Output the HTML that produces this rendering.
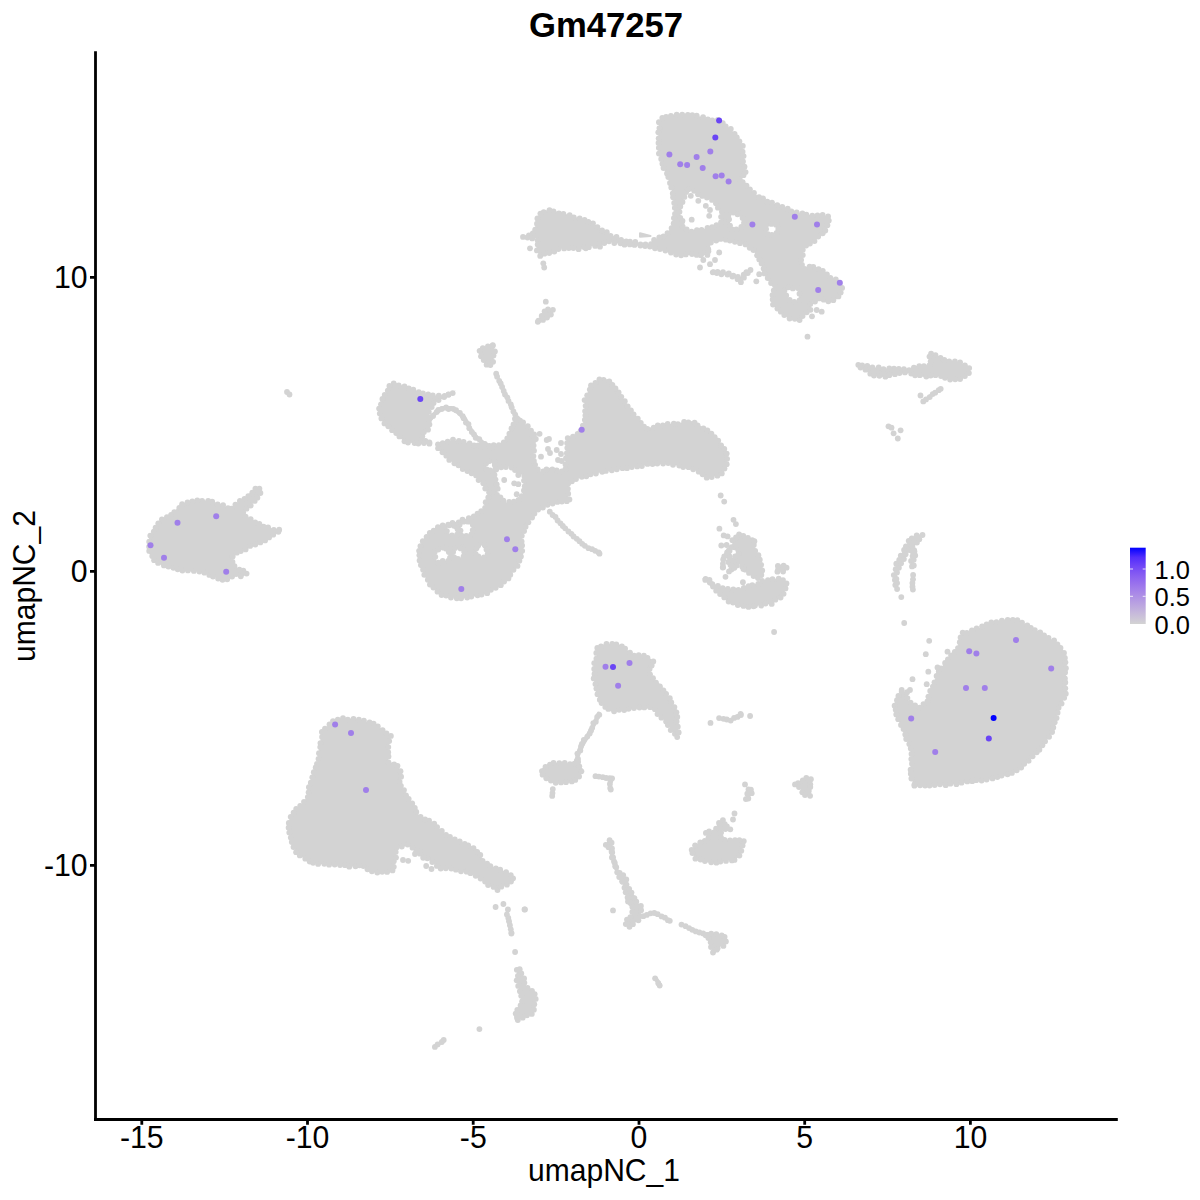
<!DOCTYPE html>
<html><head><meta charset="utf-8"><style>
html,body{margin:0;padding:0;background:#fff;width:1200px;height:1200px;overflow:hidden}
svg{position:absolute;left:0;top:0}
text{font-family:"Liberation Sans",sans-serif;fill:#000}
</style></head><body>
<svg width="1200" height="1200" viewBox="0 0 1200 1200">
<defs><linearGradient id="lg" x1="0" y1="1" x2="0" y2="0">
<stop offset="0" stop-color="#d3d3d3"/><stop offset="0.125" stop-color="#c8bcda"/><stop offset="0.25" stop-color="#bba5e0"/><stop offset="0.375" stop-color="#ad8ee6"/><stop offset="0.5" stop-color="#9d77ec"/><stop offset="0.625" stop-color="#8a60f1"/><stop offset="0.75" stop-color="#7248f6"/><stop offset="0.875" stop-color="#522dfb"/><stop offset="1" stop-color="#0000ff"/></linearGradient></defs>
<g fill="#d3d3d3" stroke="#d3d3d3" stroke-width="2" stroke-linejoin="round" stroke-linecap="round">
<path fill-rule="evenodd" stroke="none" d="M914.4 786.7 L946.5 785.1 L973.1 781.7 L996.3 778.4 L1015.9 771.9 L1028.9 760.5 L1042.1 747.3 L1051.9 732.6 L1056.8 716.2 L1056.8 716.2 L1060.1 706.2 L1060.2 706.0 L1066.7 693.0 L1065.9 676.7 L1065.9 676.6 L1066.7 663.5 L1063.5 650.7 L1057.3 642.9 L1044.2 634.7 L1032.5 628.1 L1021.0 621.5 L1010.0 618.3 L990.5 623.2 L980.6 627.3 L980.5 627.3 L968.9 631.5 L968.6 631.6 L961.4 633.0 L959.9 641.9 L959.9 642.1 L959.8 642.2 L959.8 642.3 L959.7 642.5 L953.1 654.1 L953.0 654.2 L952.9 654.4 L952.8 654.5 L944.6 662.7 L938.1 672.4 L931.5 687.2 L926.5 702.2 L926.5 702.3 L926.4 702.5 L926.3 702.6 L926.2 702.7 L926.1 702.8 L926.0 702.9 L925.9 703.0 L925.7 703.1 L919.0 706.4 L918.9 706.5 L918.7 706.5 L918.6 706.6 L918.4 706.6 L918.3 706.6 L918.1 706.6 L918.0 706.6 L917.8 706.5 L917.7 706.4 L917.5 706.4 L909.2 701.4 L909.1 701.3 L908.9 701.2 L908.8 701.1 L908.7 701.0 L908.6 700.9 L908.6 700.7 L908.5 700.6 L908.5 700.4 L908.4 700.3 L908.4 700.1 L907.7 692.3 L902.3 691.7 L898.0 695.9 L893.4 705.2 L894.9 711.2 L898.1 719.4 L904.8 734.4 L904.8 734.5 L911.5 752.8 L911.6 752.9 L911.6 753.1 L911.6 753.3 L911.6 753.5 L910.0 774.8ZM905.6 372.3 L905.8 372.2 L905.9 372.2 L906.1 372.2 L906.3 372.3 L906.4 372.3 L906.6 372.3 L915.7 375.8 L924.6 376.9 L933.6 374.6 L933.8 374.6 L933.9 374.6 L934.1 374.6 L934.3 374.6 L934.4 374.6 L934.6 374.7 L943.8 378.1 L952.7 380.4 L963.5 378.2 L969.7 372.0 L969.7 366.7 L959.2 362.5 L943.0 359.1 L942.9 359.0 L942.7 359.0 L942.6 358.9 L942.5 358.9 L933.4 353.2 L929.0 352.5 L930.9 363.0 L930.9 363.2 L930.9 363.4 L930.9 363.5 L930.9 363.7 L930.9 363.8 L930.8 364.0 L930.7 364.1 L930.6 364.2 L930.6 364.4 L930.4 364.5 L930.3 364.6 L930.2 364.7 L930.1 364.8 L929.9 364.8 L929.8 364.9 L929.6 364.9 L929.5 364.9 L915.8 366.1 L909.0 369.4 L908.9 369.5 L908.8 369.5 L908.6 369.6 L908.5 369.6 L908.3 369.6 L908.2 369.6 L908.0 369.6 L896.6 367.3 L887.5 368.4 L887.4 368.4 L887.2 368.4 L873.2 367.3 L873.1 367.2 L872.9 367.2 L863.6 364.9 L856.9 363.5 L857.2 364.7 L862.6 369.0 L871.6 374.7 L882.7 376.9 L896.3 374.6ZM914.2 549.8 L914.1 549.8 L914.0 549.8 L913.8 549.7 L913.7 549.7 L913.5 549.7 L913.4 549.6 L913.2 549.5 L913.1 549.4 L913.0 549.3 L912.9 549.2 L912.8 549.1 L912.7 549.0 L912.7 548.8 L912.6 548.7 L912.6 548.5 L912.5 548.4 L912.5 548.2 L912.5 548.1 L912.5 547.9 L912.6 547.8 L912.6 547.6 L912.7 547.5 L912.8 547.3 L912.9 547.2 L913.0 547.1 L913.1 547.0 L914.6 545.6 L920.4 538.5 L923.0 535.0 L921.9 533.5 L911.0 538.0 L905.4 545.8 L901.4 553.7 L895.5 566.5 L893.6 576.9 L896.5 588.2 L897.8 589.6 L898.3 588.1 L896.7 578.6 L896.7 578.4 L896.7 578.3 L896.7 578.1 L896.7 578.0 L898.4 569.7 L898.5 569.5 L898.5 569.4 L898.6 569.2 L898.7 569.1 L905.2 559.3 L906.7 552.9 L906.8 552.8 L906.9 552.6 L906.9 552.5 L907.0 552.3 L907.1 552.2 L907.2 552.1 L909.2 550.4 L909.4 550.3 L909.5 550.2 L909.6 550.1 L909.8 550.0 L909.9 550.0 L910.1 550.0 L910.2 550.0 L910.4 550.0 L910.6 550.0 L910.7 550.0 L910.9 550.1 L911.0 550.1 L911.1 550.2 L911.3 550.3 L911.4 550.4 L911.5 550.5 L911.6 550.6 L911.7 550.8 L911.8 550.9 L911.8 551.1 L911.8 551.2 L911.9 551.4 L912.6 557.8 L912.6 558.0 L912.6 558.2 L912.6 558.3 L912.5 558.5 L912.5 558.6 L909.8 564.7 L912.5 568.1 L915.1 567.0 L913.4 560.4 L913.4 560.2 L913.4 560.1 L913.4 559.9 L913.4 559.8 L913.4 559.7 L913.5 559.5 L913.5 559.4 L916.2 553.1ZM549.5 253.5 L559.3 248.6 L559.4 248.5 L559.6 248.5 L559.7 248.4 L559.9 248.4 L560.1 248.4 L579.8 249.2 L586.3 247.6 L586.4 247.6 L599.6 245.1 L609.5 241.8 L609.7 241.8 L609.8 241.7 L610.0 241.7 L610.1 241.7 L610.3 241.8 L618.6 243.4 L630.2 245.1 L648.5 246.7 L648.6 246.8 L648.8 246.8 L657.1 249.3 L667.1 251.8 L667.2 251.8 L676.9 255.1 L708.4 255.1 L708.4 244.4 L708.4 244.2 L708.4 244.1 L708.5 243.9 L708.5 243.7 L708.6 243.6 L708.7 243.5 L708.8 243.3 L708.9 243.2 L709.0 243.1 L709.1 243.0 L709.3 242.9 L709.4 242.9 L721.1 238.5 L721.2 238.5 L721.4 238.4 L721.5 238.4 L721.7 238.4 L721.8 238.4 L722.0 238.4 L722.1 238.5 L722.3 238.5 L730.4 241.8 L743.5 243.4 L743.7 243.4 L743.8 243.5 L744.0 243.5 L744.1 243.6 L744.2 243.7 L744.4 243.8 L754.4 252.1 L754.5 252.2 L754.6 252.4 L754.7 252.5 L759.7 260.8 L759.8 261.0 L759.8 261.1 L764.8 274.4 L767.9 280.6 L774.3 285.4 L774.4 285.5 L774.5 285.6 L774.6 285.7 L774.7 285.9 L774.8 286.0 L774.8 286.1 L774.9 286.3 L774.9 286.5 L774.9 286.6 L774.9 286.8 L774.9 286.9 L774.9 287.1 L774.8 287.2 L774.8 287.4 L771.6 293.7 L772.4 304.3 L779.4 312.1 L788.9 318.5 L800.8 320.7 L803.6 315.9 L803.7 315.8 L803.8 315.6 L803.9 315.5 L810.2 309.2 L811.8 302.9 L811.8 302.8 L811.9 302.7 L812.0 302.5 L812.0 302.4 L812.1 302.3 L812.2 302.2 L812.3 302.1 L812.5 302.0 L812.6 301.9 L812.7 301.8 L821.1 298.5 L821.2 298.5 L821.4 298.4 L821.5 298.4 L821.7 298.4 L821.8 298.4 L822.0 298.4 L822.1 298.5 L822.2 298.5 L822.4 298.6 L828.6 301.7 L835.8 300.2 L840.2 294.3 L842.4 285.4 L839.0 281.3 L829.3 276.4 L829.1 276.3 L829.0 276.2 L828.9 276.1 L822.4 269.7 L813.2 265.8 L803.7 268.2 L803.6 268.3 L803.4 268.3 L803.2 268.3 L803.1 268.2 L802.9 268.2 L802.8 268.2 L802.6 268.1 L802.5 268.0 L802.3 267.9 L802.2 267.8 L802.1 267.7 L802.0 267.6 L801.9 267.4 L801.9 267.3 L801.8 267.1 L801.8 267.0 L801.7 266.8 L801.7 266.7 L801.7 258.3 L801.7 258.2 L801.8 258.0 L803.4 249.7 L803.5 249.5 L803.5 249.4 L803.6 249.2 L803.7 249.1 L803.8 249.0 L803.9 248.9 L804.0 248.8 L812.3 242.1 L812.4 242.1 L812.7 241.8 L812.8 241.7 L813.0 241.6 L813.1 241.6 L813.3 241.5 L813.4 241.5 L813.6 241.5 L813.7 241.5 L813.9 241.5 L814.0 241.5 L814.4 241.6 L816.5 239.0 L816.7 238.8 L816.8 238.7 L825.3 232.4 L827.1 224.9 L827.2 224.8 L827.2 224.6 L827.3 224.4 L828.5 222.7 L829.8 216.3 L819.9 214.9 L806.7 214.9 L806.5 214.9 L806.4 214.9 L806.2 214.9 L794.6 211.5 L794.4 211.5 L781.1 206.5 L781.0 206.5 L766.0 199.8 L766.0 199.8 L756.0 194.8 L755.8 194.7 L755.7 194.6 L755.5 194.5 L740.5 179.5 L740.4 179.3 L740.3 179.2 L740.3 179.1 L740.2 178.9 L740.1 178.8 L740.1 178.6 L740.1 178.5 L740.1 178.3 L740.1 178.2 L740.1 178.0 L740.1 177.8 L740.2 177.7 L740.3 177.6 L740.4 177.4 L740.5 177.3 L740.6 177.2 L740.7 177.1 L740.8 177.0 L741.0 176.9 L746.5 174.1 L745.1 167.0 L743.4 158.6 L743.4 158.4 L742.6 145.5 L735.4 134.3 L727.3 126.2 L719.4 120.7 L706.4 118.2 L706.2 118.2 L693.1 114.6 L680.1 113.6 L662.6 116.5 L659.1 122.2 L658.3 136.7 L658.3 151.5 L661.5 164.4 L668.1 177.6 L668.2 177.8 L668.2 177.9 L671.5 189.6 L671.6 189.7 L674.1 203.0 L674.1 203.2 L674.1 203.3 L674.1 215.0 L674.1 215.1 L674.1 215.3 L672.3 224.8 L672.2 225.0 L671.5 227.2 L671.5 227.3 L671.4 227.5 L671.3 227.6 L667.6 232.5 L667.5 232.6 L667.4 232.7 L665.0 234.8 L664.9 234.9 L664.7 235.0 L664.5 235.1 L664.4 235.2 L662.1 235.8 L662.1 235.9 L662.0 236.1 L662.0 236.2 L661.9 236.3 L661.8 236.4 L661.6 236.5 L661.5 236.6 L661.4 236.7 L661.3 236.8 L654.2 239.7 L649.4 244.2 L649.3 244.3 L649.2 244.4 L649.1 244.4 L648.9 244.5 L648.8 244.5 L648.6 244.6 L648.5 244.6 L648.3 244.6 L648.2 244.6 L648.0 244.6 L636.4 242.4 L626.4 240.7 L626.3 240.7 L626.1 240.7 L612.8 235.7 L612.6 235.6 L602.6 230.6 L602.5 230.5 L602.4 230.4 L592.6 223.1 L582.8 219.9 L582.8 219.8 L569.5 214.9 L556.4 211.6 L546.8 210.3 L540.4 212.1 L536.5 222.2 L533.2 233.0 L533.1 233.1 L533.1 233.3 L533.0 233.4 L532.9 233.5 L532.8 233.6 L532.7 233.7 L532.6 233.8 L532.4 233.9 L532.3 234.0 L532.2 234.0 L532.0 234.1 L522.6 236.1 L524.2 238.4 L535.0 238.4 L535.2 238.4 L535.3 238.4 L535.5 238.5 L535.6 238.5 L535.8 238.6 L535.9 238.7 L536.0 238.8 L536.1 238.9 L536.2 239.0 L536.3 239.1 L536.4 239.2 L536.5 239.4 L536.5 239.5 L536.6 239.7 L536.6 239.8 L536.6 240.0 L536.6 249.7 L539.3 255.7ZM801.5 297.7 L801.5 297.9 L801.6 298.0 L801.6 298.2 L801.6 298.3 L801.6 298.5 L801.6 298.6 L801.5 298.8 L801.5 298.9 L801.4 299.1 L801.3 299.2 L801.3 299.3 L801.1 299.4 L801.0 299.6 L800.9 299.6 L800.8 299.7 L800.6 299.8 L800.5 299.9 L795.5 301.5 L795.4 301.6 L795.2 301.6 L795.0 301.6 L794.9 301.6 L794.7 301.6 L794.6 301.5 L794.4 301.5 L794.3 301.4 L787.6 298.1 L787.5 298.0 L787.4 297.9 L787.2 297.8 L787.1 297.7 L787.0 297.6 L787.0 297.5 L786.9 297.3 L786.8 297.2 L786.8 297.1 L785.1 290.4 L785.1 290.2 L785.1 290.1 L785.1 289.9 L785.1 289.7 L785.1 289.6 L785.2 289.4 L785.2 289.3 L785.3 289.1 L785.4 289.0 L785.5 288.9 L785.6 288.8 L785.8 288.7 L785.9 288.6 L786.0 288.5 L786.2 288.5 L786.3 288.4 L786.5 288.4 L786.7 288.4 L796.7 288.4 L796.8 288.4 L797.0 288.4 L797.1 288.5 L797.3 288.5 L797.4 288.6 L797.6 288.7 L797.7 288.8 L797.8 288.9 L797.9 289.0 L798.0 289.1 L798.1 289.3 L798.2 289.4ZM776.2 224.4 L776.4 224.4 L776.5 224.5 L776.7 224.5 L776.8 224.6 L776.9 224.7 L777.1 224.8 L777.2 224.9 L777.3 225.0 L777.4 225.2 L777.4 225.3 L777.5 225.4 L777.5 225.6 L777.6 225.8 L777.6 225.9 L777.6 226.1 L777.6 226.2 L776.6 233.2 L776.6 233.4 L776.5 233.5 L776.5 233.7 L776.4 233.8 L776.3 233.9 L776.2 234.0 L776.1 234.2 L776.0 234.3 L775.9 234.3 L775.7 234.4 L775.6 234.5 L775.5 234.5 L775.3 234.6 L775.2 234.6 L775.0 234.6 L769.0 234.6 L768.8 234.6 L768.7 234.6 L768.5 234.5 L768.4 234.5 L768.3 234.4 L768.1 234.3 L768.0 234.2 L767.9 234.1 L767.8 234.0 L767.7 233.9 L767.6 233.8 L767.5 233.6 L767.5 233.5 L767.4 233.4 L767.4 233.2 L766.4 225.2 L766.4 225.0 L766.4 224.9 L766.4 224.7 L766.5 224.6 L766.5 224.4 L766.6 224.3 L766.6 224.2 L766.7 224.0 L766.8 223.9 L766.9 223.8 L767.0 223.7 L767.2 223.6 L767.3 223.6 L767.4 223.5 L767.6 223.5 L767.7 223.4 L767.9 223.4 L768.0 223.4 L768.2 223.4ZM740.2 214.4 L740.3 214.4 L740.5 214.5 L740.6 214.5 L740.7 214.6 L740.9 214.7 L741.0 214.8 L741.1 214.9 L741.2 215.0 L741.3 215.1 L741.4 215.2 L741.5 215.4 L741.5 215.5 L741.6 215.7 L743.6 224.7 L743.6 224.8 L743.6 225.0 L743.6 225.1 L743.6 225.3 L743.5 225.4 L743.5 225.6 L743.4 225.7 L743.4 225.9 L743.3 226.0 L743.2 226.1 L743.0 226.2 L742.9 226.3 L742.8 226.4 L742.7 226.5 L742.5 226.5 L733.5 229.5 L733.4 229.6 L733.2 229.6 L733.0 229.6 L732.9 229.6 L732.7 229.6 L732.6 229.5 L732.4 229.5 L732.3 229.4 L732.1 229.4 L732.0 229.3 L731.9 229.2 L731.8 229.1 L731.7 228.9 L731.6 228.8 L731.5 228.7 L731.5 228.5 L731.4 228.4 L728.4 215.4 L728.4 215.2 L728.4 215.0 L728.4 214.9 L728.4 214.7 L728.5 214.6 L728.5 214.4 L728.6 214.3 L728.7 214.1 L728.7 214.0 L728.9 213.9 L729.0 213.8 L729.1 213.7 L729.2 213.6 L729.4 213.5 L729.5 213.5 L729.7 213.4 L729.8 213.4 L730.0 213.4 L730.2 213.4ZM680.1 217.2 L680.1 217.0 L680.1 216.9 L680.1 216.8 L680.1 216.6 L680.1 216.5 L681.7 203.1 L681.8 203.0 L681.8 202.9 L681.8 202.7 L686.8 190.2 L686.9 190.1 L687.0 190.0 L687.1 189.8 L687.2 189.7 L687.3 189.6 L687.4 189.5 L687.5 189.4 L687.7 189.4 L687.8 189.3 L688.0 189.3 L688.1 189.2 L688.3 189.2 L688.4 189.2 L688.6 189.3 L688.7 189.3 L688.9 189.3 L689.0 189.4 L689.1 189.5 L699.0 195.2 L712.2 200.2 L712.4 200.2 L712.5 200.3 L712.6 200.4 L712.8 200.5 L712.9 200.6 L713.0 200.7 L721.3 212.4 L721.4 212.5 L721.5 212.7 L721.5 212.8 L721.6 213.0 L721.6 213.1 L721.6 213.3 L721.6 213.4 L721.6 213.6 L719.9 223.6 L719.9 223.8 L719.8 223.9 L719.8 224.1 L719.7 224.2 L719.6 224.3 L719.5 224.5 L719.3 224.6 L719.2 224.7 L719.1 224.8 L718.9 224.8 L718.8 224.9 L707.1 228.2 L707.0 228.2 L693.6 230.7 L693.5 230.8 L693.3 230.8 L693.2 230.8 L693.0 230.7 L692.9 230.7 L684.5 228.2 L684.4 228.1 L684.3 228.1 L684.1 228.0 L684.0 227.9 L683.9 227.8 L683.8 227.7 L683.7 227.6 L683.6 227.5 L683.5 227.3 L683.5 227.2ZM810.9 784.9 L810.9 777.6 L806.6 776.7 L802.2 780.0 L802.1 780.1 L802.0 780.2 L797.0 782.7 L793.5 784.8 L799.4 787.3 L799.5 787.3 L799.7 787.4 L799.8 787.5 L799.9 787.6 L800.0 787.8 L800.1 787.9 L800.2 788.0 L800.2 788.2 L802.5 793.8 L808.8 797.0 L811.4 795.6 L809.9 793.4 L809.8 793.3 L809.8 793.1 L809.7 793.0 L809.7 792.8 L809.7 792.7 L809.7 792.5 L809.7 792.4 L809.7 792.2ZM755.7 606.0 L770.5 603.9 L780.7 597.7 L784.7 591.8 L786.7 584.0 L783.2 578.8 L773.4 578.8 L762.8 581.0 L754.3 584.2 L745.6 587.4 L745.4 587.5 L736.7 589.6 L736.6 589.7 L736.4 589.7 L736.3 589.7 L736.1 589.7 L723.1 587.5 L722.9 587.5 L722.8 587.4 L714.1 584.2 L714.0 584.1 L713.8 584.0 L713.7 583.9 L713.5 583.8 L707.6 577.8 L702.3 578.5 L702.8 579.3 L711.2 584.6 L711.3 584.7 L711.5 584.8 L711.6 584.9 L720.1 595.6 L728.5 601.9 L741.0 607.0ZM777.6 571.3 L785.9 571.3 L786.6 566.2 L781.9 563.9 L776.2 567.1ZM729.6 550.2 L728.5 550.9 L727.7 561.3 L730.1 563.4 L730.2 563.5 L730.3 563.6 L730.4 563.8 L730.5 563.9 L730.6 564.0 L730.6 564.2 L730.6 564.3 L730.7 564.5 L730.7 564.7 L730.7 564.8 L730.6 565.0 L730.6 565.1 L730.5 565.3 L730.5 565.4 L730.4 565.5 L730.3 565.7 L730.2 565.8 L730.1 565.9 L730.0 566.0 L729.8 566.0 L729.7 566.1 L730.7 570.2 L735.5 570.2 L735.5 567.8 L735.5 567.8 L735.4 567.7 L735.3 567.5 L735.3 567.4 L735.2 567.2 L735.2 567.1 L735.2 566.9 L735.2 566.7 L735.2 566.6 L735.3 566.4 L735.3 566.3 L735.4 566.1 L735.5 566.0 L735.6 565.9 L735.7 565.8 L735.8 565.7 L735.9 565.6 L736.1 565.5 L736.2 565.4 L736.4 565.4 L738.9 564.7 L739.0 564.6 L739.2 564.6 L739.3 564.6 L739.5 564.6 L739.6 564.6 L739.8 564.7 L739.9 564.7 L740.1 564.8 L740.2 564.9 L740.3 564.9 L740.4 565.1 L740.5 565.2 L741.1 565.9 L745.8 569.7 L745.9 569.8 L751.7 575.4 L756.3 579.3 L759.0 577.3 L762.5 573.9 L763.3 569.2 L760.5 563.0 L760.5 562.7 L758.6 556.2 L755.9 550.5 L755.8 550.4 L755.8 550.3 L753.0 541.2 L745.9 536.8 L745.8 536.7 L740.1 532.6 L736.6 535.4 L735.0 542.0 L735.9 544.4 L736.0 544.6 L736.0 544.7 L736.1 544.9 L736.1 545.0 L736.0 545.2 L736.0 545.4 L736.0 545.5 L735.9 545.7 L735.9 545.8 L735.8 545.9 L735.7 546.0 L735.6 546.2 L735.5 546.3 L735.3 546.4 L730.9 549.3 L735.4 547.5 L735.6 547.5 L735.7 547.4 L735.9 547.4 L736.0 547.4 L736.2 547.4 L736.3 547.4 L736.5 547.5 L736.6 547.5 L736.8 547.6 L736.9 547.7 L737.0 547.8 L737.1 547.9 L737.2 548.0 L737.3 548.1 L737.4 548.2 L737.5 548.4 L737.5 548.5 L737.6 548.7 L738.6 553.7 L738.6 553.8 L738.6 554.0 L738.6 554.2 L738.6 554.3 L738.5 554.5 L738.5 554.6 L738.4 554.8 L738.3 554.9 L738.2 555.0 L738.1 555.1 L738.0 555.2 L737.9 555.3 L737.7 555.4 L737.6 555.5 L732.6 557.5 L732.4 557.5 L732.3 557.6 L732.1 557.6 L732.0 557.6 L731.8 557.6 L731.7 557.6 L731.5 557.5 L731.4 557.5 L731.2 557.4 L731.1 557.3 L731.0 557.2 L730.9 557.1 L730.8 557.0 L730.7 556.9 L730.6 556.8 L730.5 556.6 L730.5 556.5 L730.4 556.3 L729.4 551.3 L729.4 551.2 L729.4 551.0 L729.4 550.8 L729.4 550.7 L729.5 550.5 L729.5 550.4 L729.6 550.2ZM748.7 789.0 L745.4 797.8 L745.4 800.0 L747.9 800.6 L749.8 796.8 L749.9 796.6 L750.0 796.5 L750.1 796.4 L753.7 792.8 L751.6 788.6ZM711.0 271.5 L713.9 273.5 L726.9 275.1 L727.0 275.1 L727.1 275.1 L727.3 275.2 L735.6 278.5 L735.7 278.6 L735.8 278.6 L741.3 282.1 L745.4 277.3 L751.6 269.6 L751.4 268.6 L747.6 271.3 L741.0 276.3 L740.8 276.4 L740.7 276.4 L740.5 276.5 L740.4 276.6 L740.2 276.6 L740.1 276.6 L739.9 276.6 L739.8 276.6 L739.6 276.6 L729.6 274.1 L729.5 274.0 L719.8 270.8ZM735.5 859.7 L739.9 855.4 L742.2 848.2 L742.3 848.1 L742.3 848.0 L742.4 847.9 L745.6 843.1 L744.0 840.7 L737.4 838.5 L730.4 840.3 L730.2 840.3 L730.1 840.3 L729.9 840.3 L729.7 840.3 L722.2 839.1 L722.1 839.0 L721.9 839.0 L721.8 838.9 L721.6 838.9 L721.5 838.8 L721.4 838.7 L721.3 838.5 L721.2 838.4 L721.1 838.3 L721.0 838.1 L721.0 838.0 L720.9 837.8 L720.9 837.7 L720.9 837.5 L720.9 837.3 L720.9 837.2 L722.2 830.9 L722.2 830.8 L722.3 830.6 L722.3 830.5 L722.4 830.3 L722.5 830.2 L722.6 830.1 L722.8 830.0 L722.9 829.9 L723.0 829.8 L723.2 829.8 L723.3 829.7 L723.5 829.7 L723.7 829.7 L723.8 829.7 L724.0 829.7 L724.1 829.7 L728.7 830.8 L730.6 830.2 L729.9 827.5 L725.7 825.9 L725.5 825.8 L725.4 825.7 L725.3 825.6 L725.2 825.5 L725.1 825.4 L725.0 825.3 L724.9 825.2 L724.8 825.0 L724.7 824.9 L724.7 824.8 L724.7 824.6 L724.7 824.4 L724.7 824.3 L724.7 824.1 L724.7 824.0 L725.5 820.6 L721.7 819.8 L717.6 823.4 L715.3 830.5 L715.2 830.6 L715.1 830.8 L715.1 830.9 L715.0 831.0 L714.9 831.2 L714.7 831.3 L714.6 831.3 L714.5 831.4 L714.3 831.5 L714.2 831.5 L714.1 831.6 L713.9 831.6 L713.7 831.6 L713.6 831.6 L713.4 831.6 L713.3 831.5 L707.6 829.8 L704.7 830.9 L707.7 836.8 L707.7 836.9 L707.8 837.1 L707.8 837.2 L707.8 837.4 L707.8 837.5 L707.8 837.7 L707.8 837.9 L707.8 838.0 L707.7 838.2 L707.6 838.3 L707.6 838.4 L707.5 838.5 L707.4 838.7 L707.2 838.8 L707.1 838.9 L707.0 838.9 L694.8 845.0 L691.2 850.2 L692.7 854.2 L696.0 858.7 L705.3 862.2 L717.3 862.8 L724.6 860.9 L724.8 860.9ZM718.6 947.9 L718.7 947.8 L718.8 947.7 L718.9 947.6 L719.0 947.5 L719.2 947.4 L719.3 947.3 L726.2 943.8 L727.6 940.2 L724.0 935.2 L714.9 932.9 L708.2 934.0 L704.2 937.2 L709.5 939.8 L709.6 939.9 L709.7 940.0 L709.8 940.1 L709.9 940.2 L710.0 940.3 L710.1 940.4 L710.2 940.6 L710.3 940.7 L710.3 940.8 L710.3 941.0 L711.6 948.4 L712.6 952.4 L715.5 953.2ZM488.0 492.4 L488.1 492.6 L488.2 492.7 L488.2 492.9 L488.2 493.1 L488.3 493.2 L488.3 493.4 L488.3 493.6 L488.2 493.7 L484.9 507.1 L484.8 507.2 L484.8 507.4 L484.7 507.5 L484.6 507.7 L484.5 507.8 L484.4 507.9 L474.4 516.2 L474.2 516.3 L474.1 516.4 L473.9 516.5 L473.8 516.5 L457.1 521.5 L457.1 521.6 L437.4 526.5 L424.6 537.7 L418.3 550.3 L419.9 566.2 L428.0 582.4 L440.8 595.2 L460.0 599.0 L482.8 595.1 L502.3 585.4 L515.3 569.1 L523.4 553.0 L521.7 536.8 L521.7 536.7 L521.7 536.5 L521.8 536.4 L521.8 536.2 L521.8 536.1 L521.9 536.0 L528.6 522.6 L528.7 522.4 L535.3 512.4 L535.4 512.3 L535.5 512.2 L535.7 512.1 L535.8 512.0 L545.8 505.3 L545.9 505.2 L546.1 505.2 L546.3 505.1 L559.6 501.8 L559.8 501.7 L560.0 501.7 L570.7 501.7 L568.6 497.4 L568.5 497.2 L568.5 497.1 L568.4 497.0 L568.4 496.8 L568.4 496.7 L568.4 483.3 L568.4 483.2 L568.4 483.0 L568.5 482.9 L568.5 482.7 L568.6 482.6 L568.7 482.4 L568.8 482.3 L568.9 482.2 L569.0 482.1 L569.1 482.0 L569.3 481.9 L569.4 481.8 L582.8 476.8 L582.9 476.8 L602.9 471.8 L603.1 471.8 L623.1 468.4 L623.1 468.4 L646.4 465.1 L646.5 465.1 L666.5 463.4 L666.7 463.4 L666.8 463.4 L667.0 463.4 L693.3 469.1 L693.5 469.1 L693.7 469.2 L693.8 469.3 L708.5 478.3 L722.2 474.0 L726.4 466.2 L727.4 454.0 L722.0 444.3 L711.3 432.6 L692.7 421.0 L676.9 423.3 L676.8 423.3 L660.3 424.9 L647.1 428.2 L646.9 428.2 L646.8 428.3 L646.6 428.3 L646.5 428.3 L646.3 428.2 L646.2 428.2 L646.0 428.1 L645.9 428.1 L645.7 428.0 L645.6 427.9 L645.5 427.8 L645.4 427.7 L632.1 411.0 L632.0 410.9 L618.7 392.6 L609.1 379.8 L600.4 378.3 L591.3 384.4 L584.9 398.7 L584.9 416.7 L584.9 416.8 L584.9 417.0 L584.9 417.2 L579.9 432.2 L579.8 432.3 L579.7 432.4 L579.7 432.6 L579.6 432.7 L579.5 432.8 L579.3 432.9 L579.2 433.0 L579.1 433.1 L579.0 433.1 L567.3 438.1 L567.3 438.2 L564.6 470.1 L564.6 470.3 L564.5 470.4 L564.5 470.6 L564.4 470.7 L564.3 470.9 L564.3 471.0 L564.1 471.1 L564.0 471.2 L563.9 471.3 L563.8 471.4 L563.6 471.5 L563.5 471.5 L563.3 471.6 L563.2 471.6 L563.0 471.6 L562.9 471.6 L562.7 471.6 L562.6 471.5 L549.2 467.7 L541.7 471.4 L541.6 471.5 L541.4 471.5 L541.3 471.6 L541.1 471.6 L540.9 471.6 L540.8 471.6 L540.6 471.6 L540.5 471.5 L540.3 471.5 L540.2 471.4 L540.1 471.3 L539.9 471.2 L539.8 471.1 L539.7 471.0 L539.6 470.8 L533.6 460.8 L533.6 460.7 L533.5 460.5 L533.5 460.4 L533.4 460.3 L533.4 460.1 L533.4 460.0 L534.2 434.5 L528.8 427.7 L520.9 419.8 L514.4 418.5 L508.2 437.2 L508.1 437.3 L508.1 437.5 L508.0 437.6 L507.9 437.7 L507.8 437.8 L507.7 437.9 L499.3 444.6 L499.2 444.7 L499.1 444.7 L499.0 444.8 L498.8 444.9 L498.7 444.9 L498.5 444.9 L485.2 446.6 L485.0 446.6 L484.8 446.6 L484.7 446.6 L469.7 443.2 L453.3 440.0 L438.3 443.0 L438.3 449.3 L444.4 455.5 L460.8 468.6 L470.5 471.8 L470.6 471.9 L470.8 471.9 L470.9 472.0 L471.0 472.1 L471.1 472.2 L481.1 482.2 L481.2 482.3 L481.3 482.4ZM497.9 494.1 L497.8 494.0 L497.7 493.9 L497.6 493.7 L497.5 493.6 L497.5 493.5 L497.4 493.3 L497.4 493.2 L497.4 493.0 L497.4 492.8 L497.4 492.7 L498.4 488.1 L495.2 476.2 L495.1 476.1 L495.1 475.9 L495.1 475.7 L495.1 475.5 L495.2 475.4 L496.8 469.6 L496.8 469.4 L496.9 469.3 L497.0 469.1 L497.1 469.0 L497.2 468.9 L497.3 468.8 L497.4 468.7 L497.5 468.6 L497.7 468.5 L497.8 468.5 L498.0 468.4 L508.7 466.4 L508.9 466.4 L509.0 466.4 L509.2 466.4 L509.4 466.4 L509.5 466.5 L509.7 466.5 L509.8 466.6 L510.0 466.7 L510.1 466.8 L513.9 470.4 L523.2 475.3 L523.4 475.4 L523.5 475.4 L523.6 475.5 L523.7 475.7 L523.8 475.8 L523.9 475.9 L524.0 476.0 L524.0 476.2 L524.1 476.3 L524.1 476.5 L524.1 476.6 L524.1 476.8 L523.3 492.6 L523.3 492.7 L523.2 492.9 L523.2 493.1 L523.1 493.2 L523.1 493.3 L523.0 493.5 L518.8 499.0 L518.7 499.1 L518.6 499.2 L518.4 499.3 L518.3 499.4 L518.2 499.4 L518.0 499.5 L517.9 499.5 L507.1 502.3 L507.0 502.4 L506.8 502.4 L506.6 502.4 L506.5 502.4 L506.3 502.4 L506.2 502.3 L506.1 502.3 L505.9 502.2 L505.8 502.1 L505.7 502.0 L505.6 501.9ZM494.6 468.0 L494.6 468.2 L494.6 468.3 L494.5 468.5 L494.5 468.6 L494.4 468.8 L494.3 468.9 L494.2 469.0 L494.1 469.1 L494.0 469.2 L493.9 469.3 L493.8 469.4 L493.6 469.5 L493.5 469.5 L493.3 469.6 L493.2 469.6 L493.0 469.6 L488.0 469.6 L487.8 469.6 L487.7 469.6 L487.5 469.5 L487.4 469.5 L487.2 469.4 L487.1 469.3 L487.0 469.2 L486.9 469.1 L486.8 469.0 L486.7 468.9 L486.6 468.8 L486.5 468.6 L486.5 468.5 L486.4 468.3 L486.4 468.2 L486.4 468.0 L486.4 462.5 L486.4 462.3 L486.4 462.2 L486.5 462.0 L486.5 461.9 L486.6 461.7 L486.7 461.6 L486.8 461.5 L486.9 461.4 L487.0 461.3 L487.1 461.2 L487.2 461.1 L487.4 461.0 L487.5 461.0 L487.7 460.9 L487.8 460.9 L488.0 460.9 L493.0 460.9 L493.2 460.9 L493.3 460.9 L493.5 461.0 L493.6 461.0 L493.8 461.1 L493.9 461.2 L494.0 461.3 L494.1 461.4 L494.2 461.5 L494.3 461.6 L494.4 461.7 L494.5 461.9 L494.5 462.0 L494.6 462.2 L494.6 462.3 L494.6 462.5ZM485.0 545.4 L485.2 545.4 L485.3 545.4 L485.5 545.5 L485.6 545.5 L485.8 545.6 L485.9 545.7 L486.0 545.8 L486.1 545.9 L486.2 546.0 L486.3 546.1 L486.4 546.2 L486.5 546.4 L486.5 546.5 L486.6 546.7 L486.6 546.8 L486.6 547.0 L486.6 555.0 L486.6 555.2 L486.6 555.3 L486.5 555.5 L486.5 555.6 L486.4 555.8 L486.3 555.9 L486.2 556.0 L486.1 556.1 L486.0 556.2 L485.9 556.3 L485.8 556.4 L485.6 556.5 L485.5 556.5 L485.3 556.6 L485.2 556.6 L485.0 556.6 L478.0 556.6 L477.8 556.6 L477.7 556.6 L477.5 556.5 L477.4 556.5 L477.2 556.4 L477.1 556.3 L477.0 556.2 L476.9 556.1 L476.8 556.0 L476.7 555.9 L476.6 555.8 L476.5 555.6 L476.5 555.5 L476.4 555.3 L476.4 555.2 L476.4 555.0 L476.4 547.0 L476.4 546.8 L476.4 546.7 L476.5 546.5 L476.5 546.4 L476.6 546.2 L476.7 546.1 L476.8 546.0 L476.9 545.9 L477.0 545.8 L477.1 545.7 L477.2 545.6 L477.4 545.5 L477.5 545.5 L477.7 545.4 L477.8 545.4 L478.0 545.4ZM469.8 521.4 L470.0 521.4 L470.1 521.4 L470.3 521.4 L470.4 521.5 L470.6 521.5 L470.7 521.6 L470.9 521.7 L471.0 521.7 L471.1 521.9 L471.2 522.0 L471.3 522.1 L471.4 522.2 L471.5 522.4 L471.5 522.5 L471.6 522.7 L471.6 522.8 L472.6 532.8 L472.6 533.0 L472.6 533.1 L472.6 533.3 L472.5 533.5 L472.5 533.6 L472.4 533.7 L472.3 533.9 L472.3 534.0 L472.1 534.1 L472.0 534.2 L471.9 534.3 L471.8 534.4 L471.6 534.5 L471.5 534.5 L471.4 534.6 L471.2 534.6 L463.2 535.6 L463.0 535.6 L462.9 535.6 L462.7 535.6 L462.6 535.5 L462.4 535.5 L462.3 535.4 L462.1 535.3 L462.0 535.3 L461.9 535.1 L461.8 535.0 L461.7 534.9 L461.6 534.8 L461.5 534.6 L461.5 534.5 L461.4 534.3 L461.4 534.2 L460.4 524.2 L460.4 524.0 L460.4 523.9 L460.4 523.7 L460.5 523.5 L460.5 523.4 L460.6 523.3 L460.7 523.1 L460.7 523.0 L460.9 522.9 L461.0 522.8 L461.1 522.7 L461.2 522.6 L461.4 522.5 L461.5 522.5 L461.6 522.4 L461.8 522.4ZM462.0 548.4 L462.2 548.4 L462.3 548.4 L462.5 548.5 L462.6 548.5 L462.8 548.6 L462.9 548.7 L463.0 548.8 L463.1 548.9 L463.2 549.0 L463.3 549.1 L463.4 549.2 L463.5 549.4 L463.5 549.5 L463.6 549.7 L463.6 549.8 L463.6 550.0 L463.6 556.0 L463.6 556.2 L463.6 556.3 L463.5 556.5 L463.5 556.6 L463.4 556.8 L463.3 556.9 L463.2 557.0 L463.1 557.1 L463.0 557.2 L462.9 557.3 L462.8 557.4 L462.6 557.5 L462.5 557.5 L462.3 557.6 L462.2 557.6 L462.0 557.6 L455.0 557.6 L454.8 557.6 L454.7 557.6 L454.5 557.5 L454.4 557.5 L454.2 557.4 L454.1 557.3 L454.0 557.2 L453.9 557.1 L453.8 557.0 L453.7 556.9 L453.6 556.8 L453.5 556.6 L453.5 556.5 L453.4 556.3 L453.4 556.2 L453.4 556.0 L453.4 550.0 L453.4 549.8 L453.4 549.7 L453.5 549.5 L453.5 549.4 L453.6 549.2 L453.7 549.1 L453.8 549.0 L453.9 548.9 L454.0 548.8 L454.1 548.7 L454.2 548.6 L454.4 548.5 L454.5 548.5 L454.7 548.4 L454.8 548.4 L455.0 548.4ZM456.0 526.4 L456.2 526.4 L456.3 526.4 L456.5 526.5 L456.6 526.5 L456.8 526.6 L456.9 526.7 L457.0 526.8 L457.1 526.9 L457.2 527.0 L457.3 527.1 L457.4 527.2 L457.5 527.4 L457.5 527.5 L457.6 527.7 L457.6 527.8 L457.6 528.0 L457.6 534.0 L457.6 534.2 L457.6 534.3 L457.5 534.5 L457.5 534.6 L457.4 534.8 L457.3 534.9 L457.2 535.0 L457.1 535.1 L457.0 535.2 L456.9 535.3 L456.8 535.4 L456.6 535.5 L456.5 535.5 L456.3 535.6 L456.2 535.6 L456.0 535.6 L449.0 535.6 L448.8 535.6 L448.7 535.6 L448.5 535.5 L448.4 535.5 L448.2 535.4 L448.1 535.3 L448.0 535.2 L447.9 535.1 L447.8 535.0 L447.7 534.9 L447.6 534.8 L447.5 534.6 L447.5 534.5 L447.4 534.3 L447.4 534.2 L447.4 534.0 L447.4 528.0 L447.4 527.8 L447.4 527.7 L447.5 527.5 L447.5 527.4 L447.6 527.2 L447.7 527.1 L447.8 527.0 L447.9 526.9 L448.0 526.8 L448.1 526.7 L448.2 526.6 L448.4 526.5 L448.5 526.5 L448.7 526.4 L448.8 526.4 L449.0 526.4ZM446.8 548.4 L447.0 548.4 L447.2 548.4 L447.3 548.4 L447.5 548.5 L447.6 548.5 L447.7 548.6 L447.9 548.7 L448.0 548.8 L448.1 548.9 L448.2 549.0 L448.3 549.1 L448.4 549.2 L448.5 549.4 L448.5 549.5 L448.6 549.7 L448.6 549.8 L449.6 558.8 L449.6 559.0 L449.6 559.1 L449.6 559.3 L449.5 559.4 L449.5 559.6 L449.4 559.7 L449.3 559.9 L449.2 560.0 L449.1 560.1 L449.0 560.2 L448.9 560.3 L448.8 560.4 L448.6 560.5 L448.5 560.5 L448.3 560.6 L448.2 560.6 L438.2 561.6 L438.0 561.6 L437.8 561.6 L437.7 561.6 L437.5 561.5 L437.4 561.5 L437.3 561.4 L437.1 561.3 L437.0 561.2 L436.9 561.1 L436.8 561.0 L436.7 560.9 L436.6 560.8 L436.5 560.6 L436.5 560.5 L436.4 560.3 L436.4 560.2 L435.4 551.2 L435.4 551.0 L435.4 550.9 L435.4 550.7 L435.5 550.6 L435.5 550.4 L435.6 550.3 L435.7 550.1 L435.8 550.0 L435.9 549.9 L436.0 549.8 L436.1 549.7 L436.2 549.6 L436.4 549.5 L436.5 549.5 L436.7 549.4 L436.8 549.4ZM600.8 703.0 L610.5 711.3 L639.8 708.4 L640.0 708.4 L652.0 708.4 L652.2 708.4 L652.3 708.4 L652.5 708.5 L652.6 708.5 L652.8 708.6 L652.9 708.7 L653.0 708.8 L653.1 708.9 L665.1 720.9 L665.2 721.0 L665.3 721.1 L671.3 730.1 L677.3 738.4 L678.9 735.2 L677.4 722.2 L677.4 722.0 L677.4 710.5 L671.7 701.9 L671.6 701.8 L665.7 691.4 L659.9 684.1 L651.0 676.7 L650.9 676.6 L650.8 676.5 L650.7 676.4 L650.6 676.2 L650.5 676.1 L650.5 676.0 L650.4 675.8 L650.4 675.7 L650.4 675.5 L650.4 668.0 L650.4 667.9 L650.4 667.7 L650.5 667.6 L650.5 667.4 L650.6 667.3 L650.6 667.2 L650.7 667.0 L654.4 662.2 L651.1 658.9 L639.9 654.7 L634.4 656.1 L634.2 656.1 L634.1 656.1 L633.9 656.1 L633.7 656.1 L633.6 656.0 L633.4 656.0 L633.3 655.9 L633.1 655.8 L633.0 655.7 L632.9 655.6 L627.0 649.7 L618.5 644.1 L604.4 644.1 L596.6 648.0 L596.6 656.0 L596.6 656.2 L596.6 656.3 L596.5 656.5 L593.6 665.3 L593.6 678.4 L596.5 694.5ZM622.6 882.9 L622.7 883.0 L622.7 883.1 L622.8 883.2 L622.8 883.4 L622.8 883.5 L624.0 891.9 L627.5 896.5 L627.6 896.7 L627.7 896.8 L627.7 896.9 L627.8 897.1 L627.8 897.2 L627.8 897.4 L627.9 897.5 L627.9 904.9 L630.5 903.6 L630.7 903.5 L630.8 903.5 L631.0 903.4 L631.1 903.4 L631.3 903.4 L631.4 903.4 L631.6 903.4 L631.8 903.5 L631.9 903.5 L632.0 903.6 L632.2 903.7 L632.3 903.8 L632.4 903.9 L632.5 904.0 L632.6 904.1 L632.7 904.3 L632.7 904.4 L632.8 904.6 L632.8 904.7 L632.8 904.9 L632.8 905.0 L632.8 905.2 L631.6 915.2 L631.6 915.4 L631.5 915.5 L631.5 915.7 L631.4 915.8 L631.3 915.9 L631.2 916.1 L631.1 916.2 L630.9 916.3 L630.8 916.4 L630.7 916.5 L630.5 916.5 L627.2 917.6 L624.9 920.4 L626.3 926.1 L630.7 927.0 L633.9 923.9 L634.0 923.8 L639.8 919.1 L642.0 907.9 L636.3 901.0 L636.2 900.9 L636.1 900.8 L636.0 900.7 L636.0 900.5 L635.9 900.4 L634.8 895.7 L628.8 888.5 L628.7 888.4 L628.6 888.3 L628.5 888.1 L628.5 888.0 L628.4 887.8 L626.1 877.3 L620.4 873.9 L620.3 873.8 L620.2 873.7 L620.1 873.6 L619.9 873.4 L619.9 873.3 L619.8 873.1 L614.8 861.9 L614.7 861.8 L614.7 861.6 L612.2 850.3 L612.2 850.2 L612.2 850.1 L612.2 849.9 L612.7 840.9 L610.2 839.4 L604.5 844.2 L605.0 845.2 L609.7 848.7 L609.8 848.8 L609.9 848.9 L610.0 849.0 L610.1 849.2 L610.2 849.3 L610.2 849.4 L610.3 849.6 L610.3 849.7 L612.2 859.5 L616.5 869.4 L616.5 869.5 L616.6 869.7 L617.8 875.6ZM581.3 770.2 L577.6 762.8 L571.3 764.1 L571.1 764.1 L571.0 764.1 L570.8 764.1 L559.0 762.6 L547.6 764.0 L541.1 769.3 L541.1 775.2 L547.7 780.5 L559.1 783.4 L573.4 782.0 L580.0 776.6ZM537.5 322.1 L539.7 322.5 L550.5 317.1 L553.9 310.3 L552.0 308.4 L544.4 309.8ZM517.8 1020.6 L524.3 1017.3 L524.4 1017.3 L533.6 1013.8 L535.9 1002.4 L534.7 991.0 L526.7 986.4 L526.6 986.3 L526.5 986.2 L526.3 986.1 L526.2 986.0 L526.2 985.9 L526.1 985.7 L526.0 985.6 L526.0 985.5 L522.3 973.1 L519.3 966.9 L517.1 968.4 L516.6 979.8 L519.1 989.6 L519.1 989.7 L521.6 1002.2 L521.6 1002.3 L521.6 1002.5 L521.6 1002.7 L521.6 1002.8 L521.5 1003.0 L521.5 1003.1 L521.4 1003.3 L521.3 1003.4 L521.2 1003.5 L515.3 1010.7 L514.2 1017.0ZM363.0 866.4 L363.2 866.4 L363.3 866.4 L363.5 866.5 L363.6 866.5 L363.8 866.6 L363.9 866.7 L372.5 872.4 L389.6 872.4 L394.4 870.0 L394.4 859.0 L394.4 858.8 L394.4 858.7 L394.5 858.5 L394.5 858.4 L394.6 858.2 L394.7 858.1 L394.8 858.0 L394.9 857.9 L395.0 857.8 L395.1 857.7 L395.2 857.6 L395.4 857.5 L395.5 857.5 L395.7 857.4 L395.8 857.4 L396.0 857.4 L396.1 857.4 L396.1 849.5 L396.2 849.3 L396.2 849.2 L396.2 849.0 L396.3 848.9 L396.3 848.8 L396.4 848.6 L396.5 848.5 L396.6 848.4 L396.7 848.3 L396.8 848.2 L397.0 848.1 L397.1 848.0 L397.2 848.0 L397.4 847.9 L407.1 845.7 L407.3 845.7 L407.4 845.7 L407.6 845.7 L407.8 845.7 L407.9 845.7 L408.1 845.7 L408.2 845.8 L408.3 845.9 L408.5 846.0 L414.5 850.5 L414.6 850.6 L414.7 850.7 L414.8 850.9 L417.6 855.0 L419.6 854.4 L419.8 854.4 L419.9 854.4 L420.1 854.4 L420.3 854.4 L420.4 854.5 L420.6 854.5 L420.7 854.6 L420.9 854.7 L429.9 860.7 L430.0 860.8 L438.6 868.0 L453.2 869.4 L453.3 869.4 L468.3 872.4 L468.5 872.5 L468.6 872.5 L468.7 872.6 L480.7 878.6 L480.9 878.7 L481.0 878.8 L481.1 878.9 L486.9 884.7 L497.9 890.2 L506.1 884.7 L506.3 884.6 L506.4 884.5 L512.9 881.9 L512.9 875.0 L500.4 869.5 L491.5 866.5 L491.4 866.5 L491.2 866.4 L491.1 866.3 L491.0 866.2 L483.5 860.2 L483.4 860.1 L483.2 860.0 L483.1 859.8 L475.9 848.3 L458.4 841.0 L458.2 840.9 L443.2 831.9 L443.1 831.8 L442.9 831.7 L431.1 821.3 L419.3 815.4 L419.1 815.4 L419.0 815.3 L418.9 815.2 L418.8 815.0 L418.7 814.9 L418.6 814.8 L406.6 793.8 L400.7 784.9 L400.6 784.7 L400.5 784.6 L400.5 784.4 L400.4 784.3 L400.4 784.1 L400.4 784.0 L400.4 783.8 L401.8 772.3 L397.9 765.7 L389.3 761.4 L389.1 761.4 L389.0 761.3 L388.9 761.2 L388.8 761.0 L388.7 760.9 L388.6 760.8 L388.5 760.6 L388.5 760.5 L388.4 760.3 L388.4 760.2 L388.4 760.0 L388.4 748.0 L388.4 747.8 L388.4 747.6 L391.2 736.5 L386.0 731.3 L374.3 724.0 L359.7 719.6 L342.2 718.1 L330.9 722.4 L322.5 730.8 L319.6 745.2 L318.1 760.2 L318.1 760.3 L318.0 760.4 L318.0 760.6 L309.1 784.4 L307.6 796.2 L307.6 796.3 L307.5 796.5 L307.5 796.6 L307.4 796.8 L307.3 796.9 L307.2 797.0 L301.2 804.5 L301.2 804.6 L301.1 804.7 L301.0 804.8 L295.2 809.1 L289.5 819.1 L288.1 826.0 L292.5 846.4 L298.1 854.8 L312.5 863.4 L348.1 866.4ZM493.7 345.2 L485.6 346.5 L478.9 350.9 L478.9 354.5 L482.9 360.7 L488.7 367.3 L492.0 365.6 L495.0 353.3ZM431.1 443.6 L422.7 437.3 L422.6 437.2 L422.5 437.1 L422.4 437.0 L422.3 436.8 L422.2 436.7 L422.2 436.5 L422.1 436.4 L422.1 436.2 L422.1 436.1 L422.1 435.9 L422.1 435.8 L422.1 435.6 L422.2 435.5 L422.2 435.3 L422.3 435.2 L424.6 431.2 L424.7 431.1 L424.8 430.9 L424.9 430.8 L425.0 430.7 L425.1 430.7 L425.3 430.6 L425.4 430.5 L429.6 428.9 L430.3 423.9 L426.5 415.7 L426.5 415.5 L426.4 415.4 L426.4 415.2 L426.4 415.0 L426.4 414.9 L426.4 414.7 L426.5 414.6 L426.5 414.4 L426.6 414.3 L426.7 414.1 L426.8 414.0 L430.7 409.1 L434.6 402.8 L434.7 402.7 L434.8 402.6 L434.9 402.5 L435.0 402.4 L435.2 402.3 L435.3 402.2 L442.6 398.6 L450.8 394.5 L456.0 389.9 L447.5 394.7 L447.3 394.8 L447.1 394.9 L447.0 394.9 L446.8 394.9 L436.8 395.8 L436.6 395.8 L436.4 395.8 L424.8 394.1 L424.6 394.1 L424.5 394.0 L424.4 394.0 L414.4 389.8 L404.5 386.5 L404.4 386.5 L395.0 382.6 L389.6 384.6 L386.5 392.3 L386.4 392.4 L386.3 392.6 L380.7 400.6 L379.1 410.0 L379.9 416.1 L386.2 425.6 L396.0 433.8 L396.1 433.9 L404.1 441.8 L420.1 444.2ZM221.8 580.0 L229.5 578.5 L236.0 575.2 L236.1 575.2 L236.3 575.1 L236.4 575.1 L236.6 575.1 L236.7 575.1 L236.9 575.1 L237.1 575.1 L243.0 576.6 L247.1 573.7 L245.5 570.5 L237.9 568.2 L237.7 568.1 L237.6 568.1 L237.4 568.0 L237.3 567.9 L237.2 567.8 L237.1 567.6 L232.1 561.0 L232.0 560.8 L231.9 560.7 L231.8 560.6 L231.8 560.4 L231.8 560.3 L231.7 560.1 L231.7 560.0 L231.7 559.8 L231.8 559.7 L231.8 559.5 L231.9 559.4 L231.9 559.2 L232.0 559.1 L235.3 554.1 L235.4 554.0 L235.5 553.9 L235.6 553.8 L235.8 553.7 L235.9 553.6 L236.0 553.5 L249.3 547.7 L262.6 541.1 L275.9 534.4 L281.9 530.6 L278.0 529.6 L263.0 526.6 L262.9 526.5 L262.7 526.5 L262.6 526.4 L262.5 526.4 L249.2 518.0 L249.1 518.0 L244.1 514.7 L244.0 514.6 L243.9 514.5 L243.8 514.3 L243.7 514.2 L243.6 514.1 L243.5 513.9 L243.5 513.8 L243.4 513.6 L243.4 513.5 L243.4 513.3 L243.4 513.2 L243.4 513.0 L243.5 512.9 L243.5 512.7 L243.6 512.6 L243.7 512.4 L243.8 512.3 L243.9 512.2 L250.5 505.5 L258.7 497.4 L262.1 490.5 L257.5 487.0 L252.7 490.4 L244.4 497.9 L244.2 498.0 L234.4 504.5 L231.2 508.5 L231.1 508.6 L231.0 508.7 L230.9 508.8 L230.8 508.9 L230.6 509.0 L230.5 509.0 L230.3 509.1 L230.2 509.1 L230.0 509.1 L229.9 509.1 L229.7 509.1 L229.6 509.0 L229.4 509.0 L229.3 508.9 L229.2 508.9 L222.7 504.8 L209.7 500.8 L196.8 499.9 L184.1 503.1 L176.1 509.5 L171.2 515.2 L171.1 515.3 L171.0 515.4 L170.9 515.5 L170.7 515.6 L170.6 515.7 L160.3 519.6 L153.1 532.5 L153.0 532.6 L152.9 532.7 L149.1 537.3 L148.3 552.8 L157.6 563.6 L170.4 568.5 L183.5 570.9 L200.1 571.7 L200.2 571.8 L200.4 571.8 L200.5 571.8 L212.2 576.0 L212.3 576.0Z"/>
<circle cx="914.4" cy="785.7" r="2.9" stroke="none"/>
<circle cx="920.1" cy="785.3" r="2.9" stroke="none"/>
<circle cx="925.1" cy="785.5" r="2.9" stroke="none"/>
<circle cx="929.6" cy="785.5" r="2.9" stroke="none"/>
<circle cx="934.7" cy="785.1" r="2.9" stroke="none"/>
<circle cx="940.0" cy="784.3" r="2.9" stroke="none"/>
<circle cx="945.7" cy="785.2" r="2.9" stroke="none"/>
<circle cx="950.4" cy="783.7" r="2.9" stroke="none"/>
<circle cx="956.4" cy="784.2" r="2.9" stroke="none"/>
<circle cx="961.5" cy="782.7" r="2.9" stroke="none"/>
<circle cx="967.3" cy="781.4" r="2.9" stroke="none"/>
<circle cx="972.2" cy="781.2" r="2.9" stroke="none"/>
<circle cx="976.2" cy="780.2" r="2.9" stroke="none"/>
<circle cx="981.6" cy="780.6" r="2.9" stroke="none"/>
<circle cx="986.6" cy="779.5" r="2.9" stroke="none"/>
<circle cx="992.5" cy="778.4" r="2.9" stroke="none"/>
<circle cx="997.4" cy="777.0" r="2.9" stroke="none"/>
<circle cx="1001.6" cy="775.5" r="2.9" stroke="none"/>
<circle cx="1007.5" cy="774.3" r="2.9" stroke="none"/>
<circle cx="1011.9" cy="772.9" r="2.9" stroke="none"/>
<circle cx="1016.7" cy="770.3" r="2.9" stroke="none"/>
<circle cx="1021.2" cy="767.5" r="2.9" stroke="none"/>
<circle cx="1024.2" cy="763.8" r="2.9" stroke="none"/>
<circle cx="1028.6" cy="760.9" r="2.9" stroke="none"/>
<circle cx="1032.6" cy="756.3" r="2.9" stroke="none"/>
<circle cx="1036.7" cy="752.3" r="2.9" stroke="none"/>
<circle cx="1039.4" cy="749.7" r="2.9" stroke="none"/>
<circle cx="1042.4" cy="745.3" r="2.9" stroke="none"/>
<circle cx="1045.1" cy="741.3" r="2.9" stroke="none"/>
<circle cx="1049.1" cy="736.8" r="2.9" stroke="none"/>
<circle cx="1052.1" cy="732.0" r="2.9" stroke="none"/>
<circle cx="1053.3" cy="727.5" r="2.9" stroke="none"/>
<circle cx="1054.7" cy="722.3" r="2.9" stroke="none"/>
<circle cx="1056.6" cy="718.1" r="2.9" stroke="none"/>
<circle cx="1057.6" cy="712.7" r="2.9" stroke="none"/>
<circle cx="1058.6" cy="707.8" r="2.9" stroke="none"/>
<circle cx="1061.6" cy="703.6" r="2.9" stroke="none"/>
<circle cx="1064.2" cy="697.8" r="2.9" stroke="none"/>
<circle cx="1065.8" cy="693.7" r="2.9" stroke="none"/>
<circle cx="1065.3" cy="688.3" r="2.9" stroke="none"/>
<circle cx="1065.3" cy="682.5" r="2.9" stroke="none"/>
<circle cx="1064.9" cy="678.4" r="2.9" stroke="none"/>
<circle cx="1065.1" cy="672.4" r="2.9" stroke="none"/>
<circle cx="1065.9" cy="668.2" r="2.9" stroke="none"/>
<circle cx="1065.4" cy="662.3" r="2.9" stroke="none"/>
<circle cx="1064.9" cy="658.0" r="2.9" stroke="none"/>
<circle cx="1064.0" cy="652.9" r="2.9" stroke="none"/>
<circle cx="1060.5" cy="647.9" r="2.9" stroke="none"/>
<circle cx="1057.4" cy="644.5" r="2.9" stroke="none"/>
<circle cx="1054.1" cy="640.4" r="2.9" stroke="none"/>
<circle cx="1048.5" cy="637.8" r="2.9" stroke="none"/>
<circle cx="1044.1" cy="635.4" r="2.9" stroke="none"/>
<circle cx="1040.2" cy="632.4" r="2.9" stroke="none"/>
<circle cx="1034.8" cy="630.1" r="2.9" stroke="none"/>
<circle cx="1030.8" cy="627.8" r="2.9" stroke="none"/>
<circle cx="1027.3" cy="625.4" r="2.9" stroke="none"/>
<circle cx="1022.0" cy="622.7" r="2.9" stroke="none"/>
<circle cx="1017.4" cy="620.1" r="2.9" stroke="none"/>
<circle cx="1012.8" cy="619.8" r="2.9" stroke="none"/>
<circle cx="1007.7" cy="619.9" r="2.9" stroke="none"/>
<circle cx="1001.9" cy="620.6" r="2.9" stroke="none"/>
<circle cx="996.4" cy="622.2" r="2.9" stroke="none"/>
<circle cx="991.3" cy="622.5" r="2.9" stroke="none"/>
<circle cx="986.6" cy="624.5" r="2.9" stroke="none"/>
<circle cx="982.1" cy="626.3" r="2.9" stroke="none"/>
<circle cx="976.6" cy="628.3" r="2.9" stroke="none"/>
<circle cx="971.9" cy="630.4" r="2.9" stroke="none"/>
<circle cx="966.8" cy="632.8" r="2.9" stroke="none"/>
<circle cx="962.7" cy="632.6" r="2.9" stroke="none"/>
<circle cx="960.6" cy="637.5" r="2.9" stroke="none"/>
<circle cx="959.8" cy="642.2" r="2.9" stroke="none"/>
<circle cx="958.0" cy="648.1" r="2.9" stroke="none"/>
<circle cx="954.8" cy="651.8" r="2.9" stroke="none"/>
<circle cx="951.1" cy="655.4" r="2.9" stroke="none"/>
<circle cx="947.9" cy="659.3" r="2.9" stroke="none"/>
<circle cx="945.1" cy="662.9" r="2.9" stroke="none"/>
<circle cx="940.9" cy="668.5" r="2.9" stroke="none"/>
<circle cx="938.8" cy="671.5" r="2.9" stroke="none"/>
<circle cx="936.6" cy="676.0" r="2.9" stroke="none"/>
<circle cx="934.5" cy="682.3" r="2.9" stroke="none"/>
<circle cx="932.9" cy="686.6" r="2.9" stroke="none"/>
<circle cx="930.2" cy="691.0" r="2.9" stroke="none"/>
<circle cx="928.4" cy="696.6" r="2.9" stroke="none"/>
<circle cx="927.4" cy="701.5" r="2.9" stroke="none"/>
<circle cx="923.5" cy="704.1" r="2.9" stroke="none"/>
<circle cx="919.7" cy="707.6" r="2.9" stroke="none"/>
<circle cx="915.1" cy="705.5" r="2.9" stroke="none"/>
<circle cx="910.6" cy="702.7" r="2.9" stroke="none"/>
<circle cx="907.4" cy="698.1" r="2.9" stroke="none"/>
<circle cx="907.1" cy="692.2" r="2.9" stroke="none"/>
<circle cx="901.7" cy="691.7" r="2.9" stroke="none"/>
<circle cx="898.4" cy="696.0" r="2.9" stroke="none"/>
<circle cx="897.0" cy="700.2" r="2.9" stroke="none"/>
<circle cx="894.6" cy="705.7" r="2.9" stroke="none"/>
<circle cx="895.7" cy="709.7" r="2.9" stroke="none"/>
<circle cx="896.3" cy="714.4" r="2.9" stroke="none"/>
<circle cx="898.2" cy="719.2" r="2.9" stroke="none"/>
<circle cx="901.0" cy="725.0" r="2.9" stroke="none"/>
<circle cx="903.5" cy="729.1" r="2.9" stroke="none"/>
<circle cx="905.3" cy="734.4" r="2.9" stroke="none"/>
<circle cx="906.2" cy="739.0" r="2.9" stroke="none"/>
<circle cx="909.3" cy="744.1" r="2.9" stroke="none"/>
<circle cx="910.8" cy="748.5" r="2.9" stroke="none"/>
<circle cx="911.5" cy="753.9" r="2.9" stroke="none"/>
<circle cx="911.3" cy="759.1" r="2.9" stroke="none"/>
<circle cx="912.0" cy="763.7" r="2.9" stroke="none"/>
<circle cx="910.6" cy="769.7" r="2.9" stroke="none"/>
<circle cx="910.8" cy="773.7" r="2.9" stroke="none"/>
<circle cx="911.4" cy="778.5" r="2.9" stroke="none"/>
<circle cx="914.5" cy="784.5" r="2.9" stroke="none"/>
<circle cx="904.9" cy="372.4" r="2.9" stroke="none"/>
<circle cx="911.2" cy="373.6" r="2.9" stroke="none"/>
<circle cx="915.1" cy="375.3" r="2.9" stroke="none"/>
<circle cx="919.8" cy="375.2" r="2.9" stroke="none"/>
<circle cx="926.3" cy="376.5" r="2.9" stroke="none"/>
<circle cx="930.7" cy="375.6" r="2.9" stroke="none"/>
<circle cx="935.5" cy="375.2" r="2.9" stroke="none"/>
<circle cx="941.0" cy="376.0" r="2.9" stroke="none"/>
<circle cx="945.0" cy="377.8" r="2.9" stroke="none"/>
<circle cx="950.1" cy="379.5" r="2.9" stroke="none"/>
<circle cx="955.2" cy="379.3" r="2.9" stroke="none"/>
<circle cx="960.1" cy="379.0" r="2.9" stroke="none"/>
<circle cx="964.9" cy="376.0" r="2.9" stroke="none"/>
<circle cx="968.9" cy="373.1" r="2.9" stroke="none"/>
<circle cx="969.2" cy="368.1" r="2.9" stroke="none"/>
<circle cx="964.9" cy="365.3" r="2.9" stroke="none"/>
<circle cx="960.1" cy="362.5" r="2.9" stroke="none"/>
<circle cx="954.9" cy="361.5" r="2.9" stroke="none"/>
<circle cx="949.2" cy="361.4" r="2.9" stroke="none"/>
<circle cx="944.3" cy="359.8" r="2.9" stroke="none"/>
<circle cx="940.5" cy="358.0" r="2.9" stroke="none"/>
<circle cx="935.5" cy="355.1" r="2.9" stroke="none"/>
<circle cx="931.1" cy="353.7" r="2.9" stroke="none"/>
<circle cx="929.5" cy="356.6" r="2.9" stroke="none"/>
<circle cx="930.7" cy="361.3" r="2.9" stroke="none"/>
<circle cx="929.4" cy="365.4" r="2.9" stroke="none"/>
<circle cx="923.9" cy="366.2" r="2.9" stroke="none"/>
<circle cx="919.3" cy="366.1" r="2.9" stroke="none"/>
<circle cx="913.9" cy="367.6" r="2.9" stroke="none"/>
<circle cx="909.1" cy="370.2" r="2.9" stroke="none"/>
<circle cx="903.9" cy="369.2" r="2.9" stroke="none"/>
<circle cx="898.8" cy="368.8" r="2.9" stroke="none"/>
<circle cx="894.0" cy="368.7" r="2.9" stroke="none"/>
<circle cx="889.3" cy="368.3" r="2.9" stroke="none"/>
<circle cx="883.5" cy="369.2" r="2.9" stroke="none"/>
<circle cx="878.7" cy="367.5" r="2.9" stroke="none"/>
<circle cx="872.4" cy="367.5" r="2.9" stroke="none"/>
<circle cx="867.3" cy="366.0" r="2.9" stroke="none"/>
<circle cx="862.2" cy="365.4" r="2.9" stroke="none"/>
<circle cx="858.3" cy="364.8" r="2.9" stroke="none"/>
<circle cx="860.5" cy="367.6" r="2.9" stroke="none"/>
<circle cx="865.5" cy="369.7" r="2.9" stroke="none"/>
<circle cx="870.3" cy="373.7" r="2.9" stroke="none"/>
<circle cx="874.0" cy="375.5" r="2.9" stroke="none"/>
<circle cx="879.4" cy="375.8" r="2.9" stroke="none"/>
<circle cx="885.4" cy="376.7" r="2.9" stroke="none"/>
<circle cx="889.3" cy="375.2" r="2.9" stroke="none"/>
<circle cx="894.9" cy="374.2" r="2.9" stroke="none"/>
<circle cx="899.5" cy="373.0" r="2.9" stroke="none"/>
<circle cx="905.4" cy="371.2" r="2.9" stroke="none"/>
<circle cx="914.1" cy="550.1" r="2.9" stroke="none"/>
<circle cx="912.4" cy="546.1" r="2.9" stroke="none"/>
<circle cx="916.9" cy="542.5" r="2.9" stroke="none"/>
<circle cx="919.3" cy="539.2" r="2.9" stroke="none"/>
<circle cx="922.5" cy="535.0" r="2.9" stroke="none"/>
<circle cx="916.7" cy="535.4" r="2.9" stroke="none"/>
<circle cx="911.8" cy="538.3" r="2.9" stroke="none"/>
<circle cx="908.7" cy="540.8" r="2.9" stroke="none"/>
<circle cx="905.9" cy="546.3" r="2.9" stroke="none"/>
<circle cx="904.1" cy="549.9" r="2.9" stroke="none"/>
<circle cx="900.8" cy="555.6" r="2.9" stroke="none"/>
<circle cx="899.2" cy="560.0" r="2.9" stroke="none"/>
<circle cx="896.3" cy="563.7" r="2.9" stroke="none"/>
<circle cx="895.7" cy="569.2" r="2.9" stroke="none"/>
<circle cx="893.8" cy="575.1" r="2.9" stroke="none"/>
<circle cx="894.9" cy="580.0" r="2.9" stroke="none"/>
<circle cx="895.3" cy="585.1" r="2.9" stroke="none"/>
<circle cx="897.1" cy="589.0" r="2.9" stroke="none"/>
<circle cx="897.1" cy="583.1" r="2.9" stroke="none"/>
<circle cx="896.4" cy="578.9" r="2.9" stroke="none"/>
<circle cx="897.0" cy="572.5" r="2.9" stroke="none"/>
<circle cx="898.9" cy="567.8" r="2.9" stroke="none"/>
<circle cx="901.1" cy="563.3" r="2.9" stroke="none"/>
<circle cx="903.9" cy="559.1" r="2.9" stroke="none"/>
<circle cx="905.6" cy="554.2" r="2.9" stroke="none"/>
<circle cx="909.1" cy="550.0" r="2.9" stroke="none"/>
<circle cx="912.3" cy="551.2" r="2.9" stroke="none"/>
<circle cx="912.6" cy="556.1" r="2.9" stroke="none"/>
<circle cx="911.1" cy="561.0" r="2.9" stroke="none"/>
<circle cx="912.0" cy="566.4" r="2.9" stroke="none"/>
<circle cx="913.8" cy="565.4" r="2.9" stroke="none"/>
<circle cx="913.7" cy="559.8" r="2.9" stroke="none"/>
<circle cx="915.2" cy="555.4" r="2.9" stroke="none"/>
<circle cx="914.4" cy="551.5" r="2.9" stroke="none"/>
<circle cx="549.2" cy="253.1" r="2.9" stroke="none"/>
<circle cx="554.3" cy="251.5" r="2.9" stroke="none"/>
<circle cx="558.4" cy="249.0" r="2.9" stroke="none"/>
<circle cx="564.1" cy="248.4" r="2.9" stroke="none"/>
<circle cx="568.8" cy="248.1" r="2.9" stroke="none"/>
<circle cx="573.4" cy="248.0" r="2.9" stroke="none"/>
<circle cx="578.6" cy="249.2" r="2.9" stroke="none"/>
<circle cx="584.0" cy="247.1" r="2.9" stroke="none"/>
<circle cx="588.8" cy="247.2" r="2.9" stroke="none"/>
<circle cx="595.2" cy="245.9" r="2.9" stroke="none"/>
<circle cx="599.3" cy="244.2" r="2.9" stroke="none"/>
<circle cx="604.3" cy="243.0" r="2.9" stroke="none"/>
<circle cx="609.0" cy="241.3" r="2.9" stroke="none"/>
<circle cx="614.3" cy="243.0" r="2.9" stroke="none"/>
<circle cx="620.5" cy="243.3" r="2.9" stroke="none"/>
<circle cx="624.5" cy="244.7" r="2.9" stroke="none"/>
<circle cx="629.8" cy="244.4" r="2.9" stroke="none"/>
<circle cx="634.5" cy="244.9" r="2.9" stroke="none"/>
<circle cx="640.4" cy="245.6" r="2.9" stroke="none"/>
<circle cx="645.1" cy="246.1" r="2.9" stroke="none"/>
<circle cx="649.9" cy="246.6" r="2.9" stroke="none"/>
<circle cx="655.0" cy="248.3" r="2.9" stroke="none"/>
<circle cx="660.0" cy="249.0" r="2.9" stroke="none"/>
<circle cx="665.4" cy="250.6" r="2.9" stroke="none"/>
<circle cx="670.9" cy="252.6" r="2.9" stroke="none"/>
<circle cx="676.1" cy="254.5" r="2.9" stroke="none"/>
<circle cx="681.1" cy="255.3" r="2.9" stroke="none"/>
<circle cx="685.8" cy="254.4" r="2.9" stroke="none"/>
<circle cx="692.0" cy="254.1" r="2.9" stroke="none"/>
<circle cx="696.7" cy="254.9" r="2.9" stroke="none"/>
<circle cx="700.9" cy="255.2" r="2.9" stroke="none"/>
<circle cx="707.4" cy="254.9" r="2.9" stroke="none"/>
<circle cx="708.4" cy="251.2" r="2.9" stroke="none"/>
<circle cx="707.4" cy="245.5" r="2.9" stroke="none"/>
<circle cx="710.9" cy="242.5" r="2.9" stroke="none"/>
<circle cx="716.2" cy="240.6" r="2.9" stroke="none"/>
<circle cx="720.7" cy="238.9" r="2.9" stroke="none"/>
<circle cx="725.8" cy="239.7" r="2.9" stroke="none"/>
<circle cx="729.9" cy="240.6" r="2.9" stroke="none"/>
<circle cx="734.9" cy="241.8" r="2.9" stroke="none"/>
<circle cx="740.0" cy="243.2" r="2.9" stroke="none"/>
<circle cx="745.5" cy="244.4" r="2.9" stroke="none"/>
<circle cx="749.7" cy="247.8" r="2.9" stroke="none"/>
<circle cx="753.4" cy="250.0" r="2.9" stroke="none"/>
<circle cx="757.1" cy="255.3" r="2.9" stroke="none"/>
<circle cx="759.3" cy="259.4" r="2.9" stroke="none"/>
<circle cx="761.6" cy="263.4" r="2.9" stroke="none"/>
<circle cx="763.6" cy="268.6" r="2.9" stroke="none"/>
<circle cx="764.3" cy="273.4" r="2.9" stroke="none"/>
<circle cx="767.7" cy="278.0" r="2.9" stroke="none"/>
<circle cx="771.1" cy="283.0" r="2.9" stroke="none"/>
<circle cx="774.9" cy="285.2" r="2.9" stroke="none"/>
<circle cx="773.8" cy="290.4" r="2.9" stroke="none"/>
<circle cx="772.5" cy="295.1" r="2.9" stroke="none"/>
<circle cx="772.7" cy="299.4" r="2.9" stroke="none"/>
<circle cx="773.0" cy="304.6" r="2.9" stroke="none"/>
<circle cx="777.4" cy="308.5" r="2.9" stroke="none"/>
<circle cx="780.8" cy="311.7" r="2.9" stroke="none"/>
<circle cx="784.3" cy="315.0" r="2.9" stroke="none"/>
<circle cx="789.6" cy="318.5" r="2.9" stroke="none"/>
<circle cx="794.8" cy="318.8" r="2.9" stroke="none"/>
<circle cx="799.6" cy="320.0" r="2.9" stroke="none"/>
<circle cx="802.6" cy="316.1" r="2.9" stroke="none"/>
<circle cx="806.7" cy="312.3" r="2.9" stroke="none"/>
<circle cx="810.5" cy="309.8" r="2.9" stroke="none"/>
<circle cx="810.3" cy="304.0" r="2.9" stroke="none"/>
<circle cx="815.0" cy="301.5" r="2.9" stroke="none"/>
<circle cx="819.2" cy="298.4" r="2.9" stroke="none"/>
<circle cx="823.7" cy="299.7" r="2.9" stroke="none"/>
<circle cx="828.3" cy="301.3" r="2.9" stroke="none"/>
<circle cx="833.3" cy="300.2" r="2.9" stroke="none"/>
<circle cx="838.4" cy="296.4" r="2.9" stroke="none"/>
<circle cx="840.7" cy="292.6" r="2.9" stroke="none"/>
<circle cx="842.1" cy="287.9" r="2.9" stroke="none"/>
<circle cx="839.6" cy="283.8" r="2.9" stroke="none"/>
<circle cx="835.8" cy="279.4" r="2.9" stroke="none"/>
<circle cx="830.4" cy="277.8" r="2.9" stroke="none"/>
<circle cx="826.9" cy="274.5" r="2.9" stroke="none"/>
<circle cx="822.8" cy="270.9" r="2.9" stroke="none"/>
<circle cx="818.6" cy="269.2" r="2.9" stroke="none"/>
<circle cx="813.3" cy="267.0" r="2.9" stroke="none"/>
<circle cx="809.6" cy="266.7" r="2.9" stroke="none"/>
<circle cx="804.7" cy="268.9" r="2.9" stroke="none"/>
<circle cx="802.0" cy="265.0" r="2.9" stroke="none"/>
<circle cx="801.1" cy="260.0" r="2.9" stroke="none"/>
<circle cx="802.8" cy="255.1" r="2.9" stroke="none"/>
<circle cx="802.8" cy="249.8" r="2.9" stroke="none"/>
<circle cx="806.1" cy="245.5" r="2.9" stroke="none"/>
<circle cx="809.9" cy="243.5" r="2.9" stroke="none"/>
<circle cx="814.5" cy="241.1" r="2.9" stroke="none"/>
<circle cx="818.2" cy="236.5" r="2.9" stroke="none"/>
<circle cx="822.7" cy="233.3" r="2.9" stroke="none"/>
<circle cx="825.3" cy="230.5" r="2.9" stroke="none"/>
<circle cx="827.4" cy="225.2" r="2.9" stroke="none"/>
<circle cx="828.8" cy="220.6" r="2.9" stroke="none"/>
<circle cx="828.1" cy="216.5" r="2.9" stroke="none"/>
<circle cx="822.6" cy="215.0" r="2.9" stroke="none"/>
<circle cx="817.5" cy="215.3" r="2.9" stroke="none"/>
<circle cx="812.3" cy="215.6" r="2.9" stroke="none"/>
<circle cx="806.4" cy="214.6" r="2.9" stroke="none"/>
<circle cx="802.4" cy="213.4" r="2.9" stroke="none"/>
<circle cx="796.7" cy="212.3" r="2.9" stroke="none"/>
<circle cx="791.4" cy="211.3" r="2.9" stroke="none"/>
<circle cx="787.7" cy="208.7" r="2.9" stroke="none"/>
<circle cx="782.3" cy="207.0" r="2.9" stroke="none"/>
<circle cx="777.3" cy="205.1" r="2.9" stroke="none"/>
<circle cx="772.0" cy="202.6" r="2.9" stroke="none"/>
<circle cx="767.3" cy="201.7" r="2.9" stroke="none"/>
<circle cx="763.0" cy="198.3" r="2.9" stroke="none"/>
<circle cx="759.1" cy="197.2" r="2.9" stroke="none"/>
<circle cx="754.0" cy="193.0" r="2.9" stroke="none"/>
<circle cx="749.9" cy="189.3" r="2.9" stroke="none"/>
<circle cx="746.5" cy="185.6" r="2.9" stroke="none"/>
<circle cx="742.7" cy="182.2" r="2.9" stroke="none"/>
<circle cx="739.8" cy="179.3" r="2.9" stroke="none"/>
<circle cx="743.5" cy="175.2" r="2.9" stroke="none"/>
<circle cx="745.6" cy="172.1" r="2.9" stroke="none"/>
<circle cx="744.5" cy="166.7" r="2.9" stroke="none"/>
<circle cx="743.0" cy="161.5" r="2.9" stroke="none"/>
<circle cx="743.6" cy="156.1" r="2.9" stroke="none"/>
<circle cx="742.6" cy="151.7" r="2.9" stroke="none"/>
<circle cx="742.8" cy="145.9" r="2.9" stroke="none"/>
<circle cx="739.4" cy="141.4" r="2.9" stroke="none"/>
<circle cx="736.8" cy="137.4" r="2.9" stroke="none"/>
<circle cx="734.6" cy="133.9" r="2.9" stroke="none"/>
<circle cx="730.8" cy="128.9" r="2.9" stroke="none"/>
<circle cx="725.7" cy="126.4" r="2.9" stroke="none"/>
<circle cx="722.8" cy="123.1" r="2.9" stroke="none"/>
<circle cx="717.8" cy="120.0" r="2.9" stroke="none"/>
<circle cx="712.3" cy="120.5" r="2.9" stroke="none"/>
<circle cx="707.9" cy="119.4" r="2.9" stroke="none"/>
<circle cx="703.1" cy="117.2" r="2.9" stroke="none"/>
<circle cx="696.7" cy="115.6" r="2.9" stroke="none"/>
<circle cx="692.3" cy="115.2" r="2.9" stroke="none"/>
<circle cx="687.8" cy="114.9" r="2.9" stroke="none"/>
<circle cx="682.2" cy="114.6" r="2.9" stroke="none"/>
<circle cx="676.7" cy="114.6" r="2.9" stroke="none"/>
<circle cx="670.9" cy="115.8" r="2.9" stroke="none"/>
<circle cx="666.1" cy="116.9" r="2.9" stroke="none"/>
<circle cx="662.3" cy="117.8" r="2.9" stroke="none"/>
<circle cx="658.9" cy="122.2" r="2.9" stroke="none"/>
<circle cx="659.4" cy="128.1" r="2.9" stroke="none"/>
<circle cx="658.3" cy="132.3" r="2.9" stroke="none"/>
<circle cx="658.7" cy="138.3" r="2.9" stroke="none"/>
<circle cx="658.5" cy="142.9" r="2.9" stroke="none"/>
<circle cx="658.8" cy="147.8" r="2.9" stroke="none"/>
<circle cx="658.9" cy="153.6" r="2.9" stroke="none"/>
<circle cx="661.2" cy="158.9" r="2.9" stroke="none"/>
<circle cx="662.4" cy="163.7" r="2.9" stroke="none"/>
<circle cx="663.5" cy="168.0" r="2.9" stroke="none"/>
<circle cx="667.0" cy="173.4" r="2.9" stroke="none"/>
<circle cx="668.3" cy="177.0" r="2.9" stroke="none"/>
<circle cx="670.0" cy="183.0" r="2.9" stroke="none"/>
<circle cx="671.3" cy="187.4" r="2.9" stroke="none"/>
<circle cx="672.8" cy="193.5" r="2.9" stroke="none"/>
<circle cx="673.1" cy="197.2" r="2.9" stroke="none"/>
<circle cx="674.2" cy="202.9" r="2.9" stroke="none"/>
<circle cx="674.8" cy="207.8" r="2.9" stroke="none"/>
<circle cx="675.0" cy="213.8" r="2.9" stroke="none"/>
<circle cx="673.9" cy="218.1" r="2.9" stroke="none"/>
<circle cx="673.7" cy="223.4" r="2.9" stroke="none"/>
<circle cx="671.6" cy="228.1" r="2.9" stroke="none"/>
<circle cx="667.5" cy="233.1" r="2.9" stroke="none"/>
<circle cx="663.5" cy="236.5" r="2.9" stroke="none"/>
<circle cx="659.3" cy="237.5" r="2.9" stroke="none"/>
<circle cx="654.1" cy="239.9" r="2.9" stroke="none"/>
<circle cx="651.0" cy="244.2" r="2.9" stroke="none"/>
<circle cx="645.5" cy="244.4" r="2.9" stroke="none"/>
<circle cx="640.5" cy="244.4" r="2.9" stroke="none"/>
<circle cx="635.3" cy="242.0" r="2.9" stroke="none"/>
<circle cx="630.0" cy="241.7" r="2.9" stroke="none"/>
<circle cx="626.2" cy="241.5" r="2.9" stroke="none"/>
<circle cx="621.1" cy="239.9" r="2.9" stroke="none"/>
<circle cx="616.5" cy="237.0" r="2.9" stroke="none"/>
<circle cx="610.6" cy="236.0" r="2.9" stroke="none"/>
<circle cx="606.8" cy="232.2" r="2.9" stroke="none"/>
<circle cx="602.1" cy="230.3" r="2.9" stroke="none"/>
<circle cx="597.4" cy="227.1" r="2.9" stroke="none"/>
<circle cx="593.0" cy="223.5" r="2.9" stroke="none"/>
<circle cx="588.4" cy="222.0" r="2.9" stroke="none"/>
<circle cx="584.6" cy="220.0" r="2.9" stroke="none"/>
<circle cx="579.7" cy="218.4" r="2.9" stroke="none"/>
<circle cx="573.8" cy="217.5" r="2.9" stroke="none"/>
<circle cx="569.7" cy="215.1" r="2.9" stroke="none"/>
<circle cx="563.4" cy="213.9" r="2.9" stroke="none"/>
<circle cx="558.9" cy="213.3" r="2.9" stroke="none"/>
<circle cx="553.5" cy="211.4" r="2.9" stroke="none"/>
<circle cx="549.5" cy="210.2" r="2.9" stroke="none"/>
<circle cx="543.7" cy="212.1" r="2.9" stroke="none"/>
<circle cx="540.4" cy="213.6" r="2.9" stroke="none"/>
<circle cx="537.4" cy="218.5" r="2.9" stroke="none"/>
<circle cx="537.0" cy="223.7" r="2.9" stroke="none"/>
<circle cx="535.2" cy="229.7" r="2.9" stroke="none"/>
<circle cx="532.8" cy="233.5" r="2.9" stroke="none"/>
<circle cx="528.9" cy="235.5" r="2.9" stroke="none"/>
<circle cx="523.0" cy="236.9" r="2.9" stroke="none"/>
<circle cx="527.5" cy="237.6" r="2.9" stroke="none"/>
<circle cx="532.2" cy="238.4" r="2.9" stroke="none"/>
<circle cx="537.7" cy="240.3" r="2.9" stroke="none"/>
<circle cx="537.7" cy="244.5" r="2.9" stroke="none"/>
<circle cx="536.9" cy="250.4" r="2.9" stroke="none"/>
<circle cx="540.2" cy="255.9" r="2.9" stroke="none"/>
<circle cx="544.4" cy="253.7" r="2.9" stroke="none"/>
<circle cx="801.7" cy="297.6" r="2.9" stroke="none"/>
<circle cx="799.5" cy="300.3" r="2.9" stroke="none"/>
<circle cx="794.3" cy="302.0" r="2.9" stroke="none"/>
<circle cx="789.7" cy="299.8" r="2.9" stroke="none"/>
<circle cx="786.2" cy="295.4" r="2.9" stroke="none"/>
<circle cx="784.5" cy="290.4" r="2.9" stroke="none"/>
<circle cx="788.5" cy="287.3" r="2.9" stroke="none"/>
<circle cx="792.8" cy="288.4" r="2.9" stroke="none"/>
<circle cx="797.8" cy="288.1" r="2.9" stroke="none"/>
<circle cx="799.5" cy="293.7" r="2.9" stroke="none"/>
<circle cx="776.0" cy="224.8" r="2.9" stroke="none"/>
<circle cx="778.3" cy="229.1" r="2.9" stroke="none"/>
<circle cx="776.6" cy="232.8" r="2.9" stroke="none"/>
<circle cx="771.9" cy="235.0" r="2.9" stroke="none"/>
<circle cx="767.8" cy="234.2" r="2.9" stroke="none"/>
<circle cx="766.1" cy="229.1" r="2.9" stroke="none"/>
<circle cx="766.4" cy="224.4" r="2.9" stroke="none"/>
<circle cx="771.3" cy="223.9" r="2.9" stroke="none"/>
<circle cx="776.4" cy="223.4" r="2.9" stroke="none"/>
<circle cx="740.7" cy="213.7" r="2.9" stroke="none"/>
<circle cx="742.6" cy="218.0" r="2.9" stroke="none"/>
<circle cx="744.0" cy="222.8" r="2.9" stroke="none"/>
<circle cx="741.3" cy="226.8" r="2.9" stroke="none"/>
<circle cx="736.3" cy="229.5" r="2.9" stroke="none"/>
<circle cx="732.0" cy="229.4" r="2.9" stroke="none"/>
<circle cx="730.0" cy="225.6" r="2.9" stroke="none"/>
<circle cx="729.1" cy="219.3" r="2.9" stroke="none"/>
<circle cx="728.5" cy="214.9" r="2.9" stroke="none"/>
<circle cx="733.2" cy="212.6" r="2.9" stroke="none"/>
<circle cx="737.5" cy="214.3" r="2.9" stroke="none"/>
<circle cx="680.3" cy="218.0" r="2.9" stroke="none"/>
<circle cx="679.5" cy="211.8" r="2.9" stroke="none"/>
<circle cx="680.3" cy="206.5" r="2.9" stroke="none"/>
<circle cx="682.5" cy="202.0" r="2.9" stroke="none"/>
<circle cx="684.4" cy="196.9" r="2.9" stroke="none"/>
<circle cx="686.2" cy="192.1" r="2.9" stroke="none"/>
<circle cx="688.5" cy="189.3" r="2.9" stroke="none"/>
<circle cx="694.1" cy="190.8" r="2.9" stroke="none"/>
<circle cx="698.0" cy="194.3" r="2.9" stroke="none"/>
<circle cx="702.2" cy="195.9" r="2.9" stroke="none"/>
<circle cx="706.9" cy="197.5" r="2.9" stroke="none"/>
<circle cx="712.0" cy="199.9" r="2.9" stroke="none"/>
<circle cx="715.9" cy="203.3" r="2.9" stroke="none"/>
<circle cx="717.9" cy="207.7" r="2.9" stroke="none"/>
<circle cx="721.9" cy="211.7" r="2.9" stroke="none"/>
<circle cx="721.1" cy="216.8" r="2.9" stroke="none"/>
<circle cx="721.0" cy="222.5" r="2.9" stroke="none"/>
<circle cx="716.5" cy="225.1" r="2.9" stroke="none"/>
<circle cx="712.1" cy="227.2" r="2.9" stroke="none"/>
<circle cx="707.5" cy="227.9" r="2.9" stroke="none"/>
<circle cx="701.6" cy="229.9" r="2.9" stroke="none"/>
<circle cx="696.9" cy="230.2" r="2.9" stroke="none"/>
<circle cx="691.6" cy="231.6" r="2.9" stroke="none"/>
<circle cx="686.7" cy="229.4" r="2.9" stroke="none"/>
<circle cx="682.7" cy="226.6" r="2.9" stroke="none"/>
<circle cx="681.8" cy="222.5" r="2.9" stroke="none"/>
<circle cx="810.3" cy="784.3" r="2.9" stroke="none"/>
<circle cx="810.9" cy="779.2" r="2.9" stroke="none"/>
<circle cx="806.3" cy="777.9" r="2.9" stroke="none"/>
<circle cx="802.8" cy="780.5" r="2.9" stroke="none"/>
<circle cx="798.1" cy="783.1" r="2.9" stroke="none"/>
<circle cx="795.0" cy="784.4" r="2.9" stroke="none"/>
<circle cx="799.0" cy="787.1" r="2.9" stroke="none"/>
<circle cx="802.3" cy="792.3" r="2.9" stroke="none"/>
<circle cx="805.0" cy="795.1" r="2.9" stroke="none"/>
<circle cx="810.1" cy="795.8" r="2.9" stroke="none"/>
<circle cx="808.8" cy="791.0" r="2.9" stroke="none"/>
<circle cx="810.3" cy="786.9" r="2.9" stroke="none"/>
<circle cx="755.0" cy="605.6" r="2.9" stroke="none"/>
<circle cx="761.3" cy="605.6" r="2.9" stroke="none"/>
<circle cx="765.5" cy="603.5" r="2.9" stroke="none"/>
<circle cx="771.7" cy="603.9" r="2.9" stroke="none"/>
<circle cx="775.4" cy="599.7" r="2.9" stroke="none"/>
<circle cx="780.6" cy="597.6" r="2.9" stroke="none"/>
<circle cx="783.6" cy="593.8" r="2.9" stroke="none"/>
<circle cx="785.5" cy="588.4" r="2.9" stroke="none"/>
<circle cx="786.5" cy="583.5" r="2.9" stroke="none"/>
<circle cx="783.0" cy="580.1" r="2.9" stroke="none"/>
<circle cx="778.7" cy="578.7" r="2.9" stroke="none"/>
<circle cx="772.5" cy="579.2" r="2.9" stroke="none"/>
<circle cx="767.9" cy="580.2" r="2.9" stroke="none"/>
<circle cx="762.2" cy="581.0" r="2.9" stroke="none"/>
<circle cx="758.3" cy="583.8" r="2.9" stroke="none"/>
<circle cx="752.3" cy="585.1" r="2.9" stroke="none"/>
<circle cx="748.6" cy="586.1" r="2.9" stroke="none"/>
<circle cx="743.8" cy="587.8" r="2.9" stroke="none"/>
<circle cx="738.4" cy="589.8" r="2.9" stroke="none"/>
<circle cx="733.3" cy="589.3" r="2.9" stroke="none"/>
<circle cx="727.8" cy="588.8" r="2.9" stroke="none"/>
<circle cx="722.7" cy="588.1" r="2.9" stroke="none"/>
<circle cx="717.9" cy="585.9" r="2.9" stroke="none"/>
<circle cx="712.4" cy="584.2" r="2.9" stroke="none"/>
<circle cx="709.5" cy="579.9" r="2.9" stroke="none"/>
<circle cx="705.6" cy="579.0" r="2.9" stroke="none"/>
<circle cx="705.3" cy="579.9" r="2.9" stroke="none"/>
<circle cx="709.8" cy="582.6" r="2.9" stroke="none"/>
<circle cx="713.0" cy="586.6" r="2.9" stroke="none"/>
<circle cx="716.2" cy="590.7" r="2.9" stroke="none"/>
<circle cx="720.1" cy="594.1" r="2.9" stroke="none"/>
<circle cx="724.3" cy="597.4" r="2.9" stroke="none"/>
<circle cx="728.6" cy="601.6" r="2.9" stroke="none"/>
<circle cx="733.0" cy="602.6" r="2.9" stroke="none"/>
<circle cx="737.8" cy="605.1" r="2.9" stroke="none"/>
<circle cx="743.5" cy="605.9" r="2.9" stroke="none"/>
<circle cx="748.5" cy="606.9" r="2.9" stroke="none"/>
<circle cx="753.5" cy="606.3" r="2.9" stroke="none"/>
<circle cx="777.4" cy="571.7" r="2.9" stroke="none"/>
<circle cx="783.1" cy="571.6" r="2.9" stroke="none"/>
<circle cx="786.6" cy="567.7" r="2.9" stroke="none"/>
<circle cx="783.6" cy="565.6" r="2.9" stroke="none"/>
<circle cx="777.9" cy="566.0" r="2.9" stroke="none"/>
<circle cx="778.1" cy="569.7" r="2.9" stroke="none"/>
<circle cx="729.6" cy="550.7" r="2.9" stroke="none"/>
<circle cx="729.0" cy="555.6" r="2.9" stroke="none"/>
<circle cx="728.3" cy="562.0" r="2.9" stroke="none"/>
<circle cx="730.5" cy="564.9" r="2.9" stroke="none"/>
<circle cx="731.4" cy="569.5" r="2.9" stroke="none"/>
<circle cx="734.4" cy="567.8" r="2.9" stroke="none"/>
<circle cx="736.8" cy="565.4" r="2.9" stroke="none"/>
<circle cx="742.1" cy="566.6" r="2.9" stroke="none"/>
<circle cx="745.4" cy="569.7" r="2.9" stroke="none"/>
<circle cx="749.0" cy="572.9" r="2.9" stroke="none"/>
<circle cx="753.6" cy="576.1" r="2.9" stroke="none"/>
<circle cx="758.0" cy="578.1" r="2.9" stroke="none"/>
<circle cx="761.4" cy="575.1" r="2.9" stroke="none"/>
<circle cx="762.2" cy="570.5" r="2.9" stroke="none"/>
<circle cx="761.2" cy="564.8" r="2.9" stroke="none"/>
<circle cx="759.8" cy="559.7" r="2.9" stroke="none"/>
<circle cx="758.4" cy="555.2" r="2.9" stroke="none"/>
<circle cx="755.2" cy="550.9" r="2.9" stroke="none"/>
<circle cx="753.8" cy="544.9" r="2.9" stroke="none"/>
<circle cx="752.2" cy="540.2" r="2.9" stroke="none"/>
<circle cx="747.9" cy="537.8" r="2.9" stroke="none"/>
<circle cx="743.3" cy="536.0" r="2.9" stroke="none"/>
<circle cx="739.1" cy="534.3" r="2.9" stroke="none"/>
<circle cx="736.0" cy="537.5" r="2.9" stroke="none"/>
<circle cx="735.2" cy="542.7" r="2.9" stroke="none"/>
<circle cx="734.6" cy="547.3" r="2.9" stroke="none"/>
<circle cx="738.1" cy="549.8" r="2.9" stroke="none"/>
<circle cx="738.4" cy="553.9" r="2.9" stroke="none"/>
<circle cx="735.1" cy="556.3" r="2.9" stroke="none"/>
<circle cx="729.4" cy="556.7" r="2.9" stroke="none"/>
<circle cx="728.5" cy="551.6" r="2.9" stroke="none"/>
<circle cx="748.5" cy="789.5" r="2.9" stroke="none"/>
<circle cx="747.3" cy="793.7" r="2.9" stroke="none"/>
<circle cx="745.9" cy="799.1" r="2.9" stroke="none"/>
<circle cx="748.3" cy="798.5" r="2.9" stroke="none"/>
<circle cx="751.7" cy="793.2" r="2.9" stroke="none"/>
<circle cx="750.9" cy="789.6" r="2.9" stroke="none"/>
<circle cx="712.8" cy="272.3" r="2.9" stroke="none"/>
<circle cx="716.8" cy="273.1" r="2.9" stroke="none"/>
<circle cx="721.4" cy="274.3" r="2.9" stroke="none"/>
<circle cx="727.4" cy="274.5" r="2.9" stroke="none"/>
<circle cx="732.4" cy="276.6" r="2.9" stroke="none"/>
<circle cx="737.6" cy="279.2" r="2.9" stroke="none"/>
<circle cx="740.9" cy="282.2" r="2.9" stroke="none"/>
<circle cx="743.9" cy="277.7" r="2.9" stroke="none"/>
<circle cx="747.8" cy="273.1" r="2.9" stroke="none"/>
<circle cx="750.5" cy="270.0" r="2.9" stroke="none"/>
<circle cx="746.4" cy="272.2" r="2.9" stroke="none"/>
<circle cx="743.7" cy="274.7" r="2.9" stroke="none"/>
<circle cx="737.9" cy="276.8" r="2.9" stroke="none"/>
<circle cx="733.3" cy="275.6" r="2.9" stroke="none"/>
<circle cx="728.8" cy="273.5" r="2.9" stroke="none"/>
<circle cx="723.0" cy="272.1" r="2.9" stroke="none"/>
<circle cx="717.6" cy="271.9" r="2.9" stroke="none"/>
<circle cx="713.6" cy="272.1" r="2.9" stroke="none"/>
<circle cx="734.5" cy="859.9" r="2.9" stroke="none"/>
<circle cx="739.4" cy="855.6" r="2.9" stroke="none"/>
<circle cx="741.3" cy="850.8" r="2.9" stroke="none"/>
<circle cx="742.6" cy="845.6" r="2.9" stroke="none"/>
<circle cx="743.8" cy="841.1" r="2.9" stroke="none"/>
<circle cx="739.4" cy="840.1" r="2.9" stroke="none"/>
<circle cx="735.0" cy="840.2" r="2.9" stroke="none"/>
<circle cx="730.0" cy="840.3" r="2.9" stroke="none"/>
<circle cx="724.6" cy="839.8" r="2.9" stroke="none"/>
<circle cx="721.0" cy="837.5" r="2.9" stroke="none"/>
<circle cx="721.1" cy="832.6" r="2.9" stroke="none"/>
<circle cx="725.4" cy="829.0" r="2.9" stroke="none"/>
<circle cx="730.3" cy="829.3" r="2.9" stroke="none"/>
<circle cx="726.9" cy="826.5" r="2.9" stroke="none"/>
<circle cx="724.8" cy="824.2" r="2.9" stroke="none"/>
<circle cx="722.9" cy="820.1" r="2.9" stroke="none"/>
<circle cx="719.0" cy="823.0" r="2.9" stroke="none"/>
<circle cx="716.1" cy="828.7" r="2.9" stroke="none"/>
<circle cx="714.0" cy="832.3" r="2.9" stroke="none"/>
<circle cx="709.1" cy="831.4" r="2.9" stroke="none"/>
<circle cx="705.9" cy="832.9" r="2.9" stroke="none"/>
<circle cx="708.5" cy="837.6" r="2.9" stroke="none"/>
<circle cx="704.8" cy="840.8" r="2.9" stroke="none"/>
<circle cx="700.3" cy="842.4" r="2.9" stroke="none"/>
<circle cx="695.1" cy="845.3" r="2.9" stroke="none"/>
<circle cx="691.7" cy="849.8" r="2.9" stroke="none"/>
<circle cx="692.4" cy="853.1" r="2.9" stroke="none"/>
<circle cx="695.4" cy="858.7" r="2.9" stroke="none"/>
<circle cx="700.5" cy="859.5" r="2.9" stroke="none"/>
<circle cx="704.9" cy="861.0" r="2.9" stroke="none"/>
<circle cx="711.2" cy="862.3" r="2.9" stroke="none"/>
<circle cx="716.4" cy="862.7" r="2.9" stroke="none"/>
<circle cx="720.4" cy="861.6" r="2.9" stroke="none"/>
<circle cx="726.0" cy="860.9" r="2.9" stroke="none"/>
<circle cx="731.9" cy="860.4" r="2.9" stroke="none"/>
<circle cx="717.6" cy="948.3" r="2.9" stroke="none"/>
<circle cx="723.4" cy="945.9" r="2.9" stroke="none"/>
<circle cx="725.9" cy="941.5" r="2.9" stroke="none"/>
<circle cx="724.6" cy="936.8" r="2.9" stroke="none"/>
<circle cx="721.7" cy="935.3" r="2.9" stroke="none"/>
<circle cx="716.3" cy="934.1" r="2.9" stroke="none"/>
<circle cx="711.2" cy="933.6" r="2.9" stroke="none"/>
<circle cx="705.7" cy="935.3" r="2.9" stroke="none"/>
<circle cx="708.4" cy="938.1" r="2.9" stroke="none"/>
<circle cx="710.7" cy="942.2" r="2.9" stroke="none"/>
<circle cx="711.0" cy="947.1" r="2.9" stroke="none"/>
<circle cx="713.0" cy="952.5" r="2.9" stroke="none"/>
<circle cx="716.7" cy="949.7" r="2.9" stroke="none"/>
<circle cx="489.1" cy="492.2" r="2.9" stroke="none"/>
<circle cx="488.3" cy="497.4" r="2.9" stroke="none"/>
<circle cx="485.7" cy="502.2" r="2.9" stroke="none"/>
<circle cx="485.1" cy="507.8" r="2.9" stroke="none"/>
<circle cx="481.2" cy="511.2" r="2.9" stroke="none"/>
<circle cx="477.5" cy="513.7" r="2.9" stroke="none"/>
<circle cx="473.8" cy="516.5" r="2.9" stroke="none"/>
<circle cx="468.8" cy="518.1" r="2.9" stroke="none"/>
<circle cx="462.5" cy="519.6" r="2.9" stroke="none"/>
<circle cx="458.7" cy="522.4" r="2.9" stroke="none"/>
<circle cx="452.5" cy="522.9" r="2.9" stroke="none"/>
<circle cx="448.2" cy="524.6" r="2.9" stroke="none"/>
<circle cx="442.7" cy="525.4" r="2.9" stroke="none"/>
<circle cx="437.9" cy="527.2" r="2.9" stroke="none"/>
<circle cx="433.7" cy="530.6" r="2.9" stroke="none"/>
<circle cx="429.8" cy="532.9" r="2.9" stroke="none"/>
<circle cx="426.6" cy="536.8" r="2.9" stroke="none"/>
<circle cx="422.8" cy="541.2" r="2.9" stroke="none"/>
<circle cx="420.4" cy="546.1" r="2.9" stroke="none"/>
<circle cx="419.1" cy="550.8" r="2.9" stroke="none"/>
<circle cx="419.4" cy="555.2" r="2.9" stroke="none"/>
<circle cx="419.6" cy="560.5" r="2.9" stroke="none"/>
<circle cx="420.9" cy="565.1" r="2.9" stroke="none"/>
<circle cx="423.1" cy="569.7" r="2.9" stroke="none"/>
<circle cx="424.3" cy="574.8" r="2.9" stroke="none"/>
<circle cx="427.8" cy="579.8" r="2.9" stroke="none"/>
<circle cx="429.9" cy="584.6" r="2.9" stroke="none"/>
<circle cx="433.4" cy="587.6" r="2.9" stroke="none"/>
<circle cx="437.5" cy="591.7" r="2.9" stroke="none"/>
<circle cx="441.6" cy="595.1" r="2.9" stroke="none"/>
<circle cx="446.1" cy="595.6" r="2.9" stroke="none"/>
<circle cx="450.9" cy="597.5" r="2.9" stroke="none"/>
<circle cx="456.8" cy="598.3" r="2.9" stroke="none"/>
<circle cx="461.1" cy="598.3" r="2.9" stroke="none"/>
<circle cx="467.2" cy="597.6" r="2.9" stroke="none"/>
<circle cx="471.3" cy="596.5" r="2.9" stroke="none"/>
<circle cx="477.6" cy="595.3" r="2.9" stroke="none"/>
<circle cx="481.6" cy="594.5" r="2.9" stroke="none"/>
<circle cx="487.2" cy="593.2" r="2.9" stroke="none"/>
<circle cx="490.9" cy="589.8" r="2.9" stroke="none"/>
<circle cx="495.7" cy="587.8" r="2.9" stroke="none"/>
<circle cx="500.8" cy="585.2" r="2.9" stroke="none"/>
<circle cx="504.1" cy="581.6" r="2.9" stroke="none"/>
<circle cx="508.4" cy="578.4" r="2.9" stroke="none"/>
<circle cx="510.3" cy="574.7" r="2.9" stroke="none"/>
<circle cx="513.5" cy="569.8" r="2.9" stroke="none"/>
<circle cx="517.5" cy="565.9" r="2.9" stroke="none"/>
<circle cx="519.4" cy="560.7" r="2.9" stroke="none"/>
<circle cx="520.9" cy="556.4" r="2.9" stroke="none"/>
<circle cx="522.2" cy="550.8" r="2.9" stroke="none"/>
<circle cx="522.1" cy="545.4" r="2.9" stroke="none"/>
<circle cx="521.6" cy="541.4" r="2.9" stroke="none"/>
<circle cx="521.8" cy="535.8" r="2.9" stroke="none"/>
<circle cx="524.1" cy="531.1" r="2.9" stroke="none"/>
<circle cx="525.6" cy="526.7" r="2.9" stroke="none"/>
<circle cx="528.4" cy="522.3" r="2.9" stroke="none"/>
<circle cx="532.1" cy="517.5" r="2.9" stroke="none"/>
<circle cx="534.4" cy="513.6" r="2.9" stroke="none"/>
<circle cx="538.1" cy="509.5" r="2.9" stroke="none"/>
<circle cx="542.9" cy="507.6" r="2.9" stroke="none"/>
<circle cx="547.5" cy="504.8" r="2.9" stroke="none"/>
<circle cx="552.6" cy="503.5" r="2.9" stroke="none"/>
<circle cx="557.4" cy="501.9" r="2.9" stroke="none"/>
<circle cx="561.9" cy="501.5" r="2.9" stroke="none"/>
<circle cx="566.8" cy="501.2" r="2.9" stroke="none"/>
<circle cx="569.4" cy="499.4" r="2.9" stroke="none"/>
<circle cx="568.2" cy="493.7" r="2.9" stroke="none"/>
<circle cx="567.9" cy="488.8" r="2.9" stroke="none"/>
<circle cx="568.2" cy="483.5" r="2.9" stroke="none"/>
<circle cx="571.9" cy="481.3" r="2.9" stroke="none"/>
<circle cx="576.0" cy="479.0" r="2.9" stroke="none"/>
<circle cx="581.8" cy="476.8" r="2.9" stroke="none"/>
<circle cx="586.3" cy="476.3" r="2.9" stroke="none"/>
<circle cx="590.6" cy="474.3" r="2.9" stroke="none"/>
<circle cx="595.9" cy="473.5" r="2.9" stroke="none"/>
<circle cx="602.2" cy="471.8" r="2.9" stroke="none"/>
<circle cx="605.9" cy="470.9" r="2.9" stroke="none"/>
<circle cx="611.8" cy="470.3" r="2.9" stroke="none"/>
<circle cx="616.8" cy="469.3" r="2.9" stroke="none"/>
<circle cx="622.5" cy="468.2" r="2.9" stroke="none"/>
<circle cx="627.0" cy="468.2" r="2.9" stroke="none"/>
<circle cx="631.8" cy="467.0" r="2.9" stroke="none"/>
<circle cx="637.2" cy="466.4" r="2.9" stroke="none"/>
<circle cx="641.9" cy="466.0" r="2.9" stroke="none"/>
<circle cx="647.5" cy="463.9" r="2.9" stroke="none"/>
<circle cx="652.5" cy="464.0" r="2.9" stroke="none"/>
<circle cx="657.3" cy="463.6" r="2.9" stroke="none"/>
<circle cx="663.1" cy="463.6" r="2.9" stroke="none"/>
<circle cx="668.2" cy="463.0" r="2.9" stroke="none"/>
<circle cx="673.0" cy="464.8" r="2.9" stroke="none"/>
<circle cx="679.3" cy="465.6" r="2.9" stroke="none"/>
<circle cx="683.2" cy="467.1" r="2.9" stroke="none"/>
<circle cx="688.6" cy="467.2" r="2.9" stroke="none"/>
<circle cx="693.2" cy="469.3" r="2.9" stroke="none"/>
<circle cx="698.7" cy="471.7" r="2.9" stroke="none"/>
<circle cx="702.6" cy="474.3" r="2.9" stroke="none"/>
<circle cx="706.7" cy="477.7" r="2.9" stroke="none"/>
<circle cx="711.7" cy="477.0" r="2.9" stroke="none"/>
<circle cx="717.4" cy="475.7" r="2.9" stroke="none"/>
<circle cx="721.8" cy="473.4" r="2.9" stroke="none"/>
<circle cx="724.5" cy="468.6" r="2.9" stroke="none"/>
<circle cx="726.7" cy="464.2" r="2.9" stroke="none"/>
<circle cx="727.1" cy="458.8" r="2.9" stroke="none"/>
<circle cx="726.7" cy="453.6" r="2.9" stroke="none"/>
<circle cx="724.3" cy="449.0" r="2.9" stroke="none"/>
<circle cx="721.1" cy="445.3" r="2.9" stroke="none"/>
<circle cx="718.2" cy="440.6" r="2.9" stroke="none"/>
<circle cx="714.7" cy="437.2" r="2.9" stroke="none"/>
<circle cx="711.4" cy="433.6" r="2.9" stroke="none"/>
<circle cx="707.4" cy="430.3" r="2.9" stroke="none"/>
<circle cx="703.4" cy="428.3" r="2.9" stroke="none"/>
<circle cx="697.6" cy="425.5" r="2.9" stroke="none"/>
<circle cx="694.6" cy="422.7" r="2.9" stroke="none"/>
<circle cx="688.4" cy="422.5" r="2.9" stroke="none"/>
<circle cx="684.1" cy="421.9" r="2.9" stroke="none"/>
<circle cx="677.9" cy="424.1" r="2.9" stroke="none"/>
<circle cx="673.8" cy="423.6" r="2.9" stroke="none"/>
<circle cx="667.7" cy="423.9" r="2.9" stroke="none"/>
<circle cx="662.8" cy="425.5" r="2.9" stroke="none"/>
<circle cx="657.8" cy="425.3" r="2.9" stroke="none"/>
<circle cx="653.7" cy="427.6" r="2.9" stroke="none"/>
<circle cx="647.4" cy="429.0" r="2.9" stroke="none"/>
<circle cx="644.0" cy="426.7" r="2.9" stroke="none"/>
<circle cx="640.8" cy="422.9" r="2.9" stroke="none"/>
<circle cx="637.8" cy="418.7" r="2.9" stroke="none"/>
<circle cx="633.6" cy="414.4" r="2.9" stroke="none"/>
<circle cx="630.9" cy="410.4" r="2.9" stroke="none"/>
<circle cx="627.7" cy="406.4" r="2.9" stroke="none"/>
<circle cx="624.8" cy="401.2" r="2.9" stroke="none"/>
<circle cx="621.3" cy="396.8" r="2.9" stroke="none"/>
<circle cx="618.6" cy="392.5" r="2.9" stroke="none"/>
<circle cx="615.5" cy="388.5" r="2.9" stroke="none"/>
<circle cx="612.4" cy="384.9" r="2.9" stroke="none"/>
<circle cx="609.3" cy="381.3" r="2.9" stroke="none"/>
<circle cx="603.6" cy="380.0" r="2.9" stroke="none"/>
<circle cx="599.4" cy="379.5" r="2.9" stroke="none"/>
<circle cx="595.4" cy="382.9" r="2.9" stroke="none"/>
<circle cx="591.0" cy="385.4" r="2.9" stroke="none"/>
<circle cx="589.8" cy="389.6" r="2.9" stroke="none"/>
<circle cx="587.2" cy="395.3" r="2.9" stroke="none"/>
<circle cx="584.6" cy="400.1" r="2.9" stroke="none"/>
<circle cx="585.6" cy="405.8" r="2.9" stroke="none"/>
<circle cx="585.1" cy="411.1" r="2.9" stroke="none"/>
<circle cx="585.4" cy="415.5" r="2.9" stroke="none"/>
<circle cx="584.8" cy="419.8" r="2.9" stroke="none"/>
<circle cx="582.9" cy="425.6" r="2.9" stroke="none"/>
<circle cx="580.6" cy="430.9" r="2.9" stroke="none"/>
<circle cx="577.6" cy="434.0" r="2.9" stroke="none"/>
<circle cx="573.0" cy="436.6" r="2.9" stroke="none"/>
<circle cx="567.7" cy="438.1" r="2.9" stroke="none"/>
<circle cx="567.1" cy="443.1" r="2.9" stroke="none"/>
<circle cx="567.3" cy="447.8" r="2.9" stroke="none"/>
<circle cx="566.9" cy="453.2" r="2.9" stroke="none"/>
<circle cx="566.0" cy="458.2" r="2.9" stroke="none"/>
<circle cx="565.5" cy="464.5" r="2.9" stroke="none"/>
<circle cx="565.3" cy="469.4" r="2.9" stroke="none"/>
<circle cx="561.8" cy="471.5" r="2.9" stroke="none"/>
<circle cx="556.7" cy="470.5" r="2.9" stroke="none"/>
<circle cx="552.3" cy="469.4" r="2.9" stroke="none"/>
<circle cx="546.5" cy="469.5" r="2.9" stroke="none"/>
<circle cx="543.2" cy="471.5" r="2.9" stroke="none"/>
<circle cx="537.8" cy="469.5" r="2.9" stroke="none"/>
<circle cx="535.1" cy="464.8" r="2.9" stroke="none"/>
<circle cx="533.9" cy="461.0" r="2.9" stroke="none"/>
<circle cx="533.4" cy="456.1" r="2.9" stroke="none"/>
<circle cx="534.0" cy="450.7" r="2.9" stroke="none"/>
<circle cx="533.6" cy="445.5" r="2.9" stroke="none"/>
<circle cx="533.9" cy="440.2" r="2.9" stroke="none"/>
<circle cx="534.1" cy="434.4" r="2.9" stroke="none"/>
<circle cx="531.0" cy="430.7" r="2.9" stroke="none"/>
<circle cx="527.8" cy="426.2" r="2.9" stroke="none"/>
<circle cx="523.1" cy="422.4" r="2.9" stroke="none"/>
<circle cx="520.1" cy="420.6" r="2.9" stroke="none"/>
<circle cx="514.9" cy="418.8" r="2.9" stroke="none"/>
<circle cx="513.5" cy="424.4" r="2.9" stroke="none"/>
<circle cx="511.5" cy="428.5" r="2.9" stroke="none"/>
<circle cx="509.4" cy="433.7" r="2.9" stroke="none"/>
<circle cx="507.3" cy="438.4" r="2.9" stroke="none"/>
<circle cx="503.8" cy="442.4" r="2.9" stroke="none"/>
<circle cx="498.8" cy="445.1" r="2.9" stroke="none"/>
<circle cx="493.7" cy="445.2" r="2.9" stroke="none"/>
<circle cx="489.7" cy="446.6" r="2.9" stroke="none"/>
<circle cx="484.7" cy="446.8" r="2.9" stroke="none"/>
<circle cx="478.2" cy="445.5" r="2.9" stroke="none"/>
<circle cx="474.1" cy="445.3" r="2.9" stroke="none"/>
<circle cx="469.6" cy="443.4" r="2.9" stroke="none"/>
<circle cx="463.6" cy="441.8" r="2.9" stroke="none"/>
<circle cx="458.9" cy="441.0" r="2.9" stroke="none"/>
<circle cx="453.0" cy="439.6" r="2.9" stroke="none"/>
<circle cx="447.7" cy="441.6" r="2.9" stroke="none"/>
<circle cx="442.7" cy="443.1" r="2.9" stroke="none"/>
<circle cx="438.0" cy="444.3" r="2.9" stroke="none"/>
<circle cx="438.1" cy="448.2" r="2.9" stroke="none"/>
<circle cx="442.5" cy="452.3" r="2.9" stroke="none"/>
<circle cx="446.3" cy="455.7" r="2.9" stroke="none"/>
<circle cx="449.3" cy="459.9" r="2.9" stroke="none"/>
<circle cx="454.4" cy="463.3" r="2.9" stroke="none"/>
<circle cx="458.5" cy="465.3" r="2.9" stroke="none"/>
<circle cx="462.7" cy="469.1" r="2.9" stroke="none"/>
<circle cx="467.4" cy="471.1" r="2.9" stroke="none"/>
<circle cx="471.6" cy="473.3" r="2.9" stroke="none"/>
<circle cx="476.1" cy="475.4" r="2.9" stroke="none"/>
<circle cx="478.6" cy="480.1" r="2.9" stroke="none"/>
<circle cx="483.3" cy="483.2" r="2.9" stroke="none"/>
<circle cx="485.3" cy="488.5" r="2.9" stroke="none"/>
<circle cx="497.0" cy="495.0" r="2.9" stroke="none"/>
<circle cx="497.7" cy="488.7" r="2.9" stroke="none"/>
<circle cx="496.7" cy="484.5" r="2.9" stroke="none"/>
<circle cx="495.5" cy="479.6" r="2.9" stroke="none"/>
<circle cx="494.5" cy="474.8" r="2.9" stroke="none"/>
<circle cx="496.2" cy="469.5" r="2.9" stroke="none"/>
<circle cx="501.2" cy="467.3" r="2.9" stroke="none"/>
<circle cx="505.9" cy="467.0" r="2.9" stroke="none"/>
<circle cx="511.6" cy="467.5" r="2.9" stroke="none"/>
<circle cx="515.0" cy="470.1" r="2.9" stroke="none"/>
<circle cx="518.8" cy="473.6" r="2.9" stroke="none"/>
<circle cx="524.3" cy="475.9" r="2.9" stroke="none"/>
<circle cx="524.0" cy="480.6" r="2.9" stroke="none"/>
<circle cx="524.8" cy="486.2" r="2.9" stroke="none"/>
<circle cx="523.9" cy="490.5" r="2.9" stroke="none"/>
<circle cx="521.8" cy="496.1" r="2.9" stroke="none"/>
<circle cx="518.5" cy="499.9" r="2.9" stroke="none"/>
<circle cx="513.9" cy="501.7" r="2.9" stroke="none"/>
<circle cx="509.2" cy="502.0" r="2.9" stroke="none"/>
<circle cx="503.4" cy="500.7" r="2.9" stroke="none"/>
<circle cx="500.4" cy="497.5" r="2.9" stroke="none"/>
<circle cx="495.5" cy="468.6" r="2.9" stroke="none"/>
<circle cx="490.2" cy="470.5" r="2.9" stroke="none"/>
<circle cx="486.7" cy="469.4" r="2.9" stroke="none"/>
<circle cx="486.1" cy="463.3" r="2.9" stroke="none"/>
<circle cx="489.4" cy="461.0" r="2.9" stroke="none"/>
<circle cx="494.3" cy="461.4" r="2.9" stroke="none"/>
<circle cx="494.8" cy="465.0" r="2.9" stroke="none"/>
<circle cx="485.1" cy="545.5" r="2.9" stroke="none"/>
<circle cx="486.5" cy="549.5" r="2.9" stroke="none"/>
<circle cx="487.7" cy="553.8" r="2.9" stroke="none"/>
<circle cx="483.9" cy="557.3" r="2.9" stroke="none"/>
<circle cx="478.4" cy="556.5" r="2.9" stroke="none"/>
<circle cx="475.6" cy="553.8" r="2.9" stroke="none"/>
<circle cx="476.5" cy="548.2" r="2.9" stroke="none"/>
<circle cx="478.2" cy="545.5" r="2.9" stroke="none"/>
<circle cx="484.5" cy="544.6" r="2.9" stroke="none"/>
<circle cx="469.9" cy="521.7" r="2.9" stroke="none"/>
<circle cx="472.8" cy="524.8" r="2.9" stroke="none"/>
<circle cx="472.7" cy="530.1" r="2.9" stroke="none"/>
<circle cx="471.4" cy="534.3" r="2.9" stroke="none"/>
<circle cx="466.3" cy="535.9" r="2.9" stroke="none"/>
<circle cx="461.5" cy="535.7" r="2.9" stroke="none"/>
<circle cx="460.5" cy="530.6" r="2.9" stroke="none"/>
<circle cx="459.6" cy="524.7" r="2.9" stroke="none"/>
<circle cx="463.4" cy="521.7" r="2.9" stroke="none"/>
<circle cx="467.2" cy="521.5" r="2.9" stroke="none"/>
<circle cx="462.5" cy="547.4" r="2.9" stroke="none"/>
<circle cx="464.2" cy="551.8" r="2.9" stroke="none"/>
<circle cx="463.6" cy="556.4" r="2.9" stroke="none"/>
<circle cx="457.9" cy="558.8" r="2.9" stroke="none"/>
<circle cx="454.2" cy="557.4" r="2.9" stroke="none"/>
<circle cx="453.1" cy="552.0" r="2.9" stroke="none"/>
<circle cx="455.1" cy="547.9" r="2.9" stroke="none"/>
<circle cx="460.6" cy="548.4" r="2.9" stroke="none"/>
<circle cx="456.5" cy="526.7" r="2.9" stroke="none"/>
<circle cx="457.6" cy="529.3" r="2.9" stroke="none"/>
<circle cx="457.1" cy="534.7" r="2.9" stroke="none"/>
<circle cx="452.0" cy="535.3" r="2.9" stroke="none"/>
<circle cx="447.7" cy="536.0" r="2.9" stroke="none"/>
<circle cx="446.9" cy="531.1" r="2.9" stroke="none"/>
<circle cx="449.3" cy="525.3" r="2.9" stroke="none"/>
<circle cx="454.0" cy="525.8" r="2.9" stroke="none"/>
<circle cx="446.2" cy="548.7" r="2.9" stroke="none"/>
<circle cx="448.8" cy="552.0" r="2.9" stroke="none"/>
<circle cx="450.0" cy="557.7" r="2.9" stroke="none"/>
<circle cx="448.2" cy="560.8" r="2.9" stroke="none"/>
<circle cx="442.7" cy="561.0" r="2.9" stroke="none"/>
<circle cx="438.3" cy="562.7" r="2.9" stroke="none"/>
<circle cx="435.3" cy="556.8" r="2.9" stroke="none"/>
<circle cx="434.7" cy="552.1" r="2.9" stroke="none"/>
<circle cx="438.3" cy="549.6" r="2.9" stroke="none"/>
<circle cx="443.4" cy="547.7" r="2.9" stroke="none"/>
<circle cx="601.6" cy="703.1" r="2.9" stroke="none"/>
<circle cx="605.3" cy="706.9" r="2.9" stroke="none"/>
<circle cx="608.3" cy="708.9" r="2.9" stroke="none"/>
<circle cx="614.1" cy="711.3" r="2.9" stroke="none"/>
<circle cx="619.1" cy="709.8" r="2.9" stroke="none"/>
<circle cx="624.2" cy="710.0" r="2.9" stroke="none"/>
<circle cx="628.6" cy="708.8" r="2.9" stroke="none"/>
<circle cx="634.0" cy="708.0" r="2.9" stroke="none"/>
<circle cx="639.5" cy="707.5" r="2.9" stroke="none"/>
<circle cx="644.3" cy="707.4" r="2.9" stroke="none"/>
<circle cx="650.2" cy="707.2" r="2.9" stroke="none"/>
<circle cx="654.9" cy="709.2" r="2.9" stroke="none"/>
<circle cx="657.5" cy="714.1" r="2.9" stroke="none"/>
<circle cx="661.4" cy="717.7" r="2.9" stroke="none"/>
<circle cx="666.1" cy="721.4" r="2.9" stroke="none"/>
<circle cx="667.9" cy="725.0" r="2.9" stroke="none"/>
<circle cx="670.7" cy="730.1" r="2.9" stroke="none"/>
<circle cx="674.9" cy="733.8" r="2.9" stroke="none"/>
<circle cx="677.2" cy="737.1" r="2.9" stroke="none"/>
<circle cx="678.7" cy="732.4" r="2.9" stroke="none"/>
<circle cx="677.8" cy="726.7" r="2.9" stroke="none"/>
<circle cx="676.6" cy="721.4" r="2.9" stroke="none"/>
<circle cx="677.3" cy="717.0" r="2.9" stroke="none"/>
<circle cx="676.4" cy="712.3" r="2.9" stroke="none"/>
<circle cx="674.4" cy="707.1" r="2.9" stroke="none"/>
<circle cx="671.3" cy="702.5" r="2.9" stroke="none"/>
<circle cx="669.8" cy="698.2" r="2.9" stroke="none"/>
<circle cx="666.1" cy="693.9" r="2.9" stroke="none"/>
<circle cx="663.4" cy="690.3" r="2.9" stroke="none"/>
<circle cx="659.9" cy="686.3" r="2.9" stroke="none"/>
<circle cx="656.0" cy="682.7" r="2.9" stroke="none"/>
<circle cx="653.0" cy="678.2" r="2.9" stroke="none"/>
<circle cx="650.0" cy="674.3" r="2.9" stroke="none"/>
<circle cx="649.6" cy="669.0" r="2.9" stroke="none"/>
<circle cx="651.7" cy="665.6" r="2.9" stroke="none"/>
<circle cx="653.3" cy="661.5" r="2.9" stroke="none"/>
<circle cx="647.5" cy="657.9" r="2.9" stroke="none"/>
<circle cx="643.9" cy="655.7" r="2.9" stroke="none"/>
<circle cx="638.7" cy="655.1" r="2.9" stroke="none"/>
<circle cx="634.1" cy="655.6" r="2.9" stroke="none"/>
<circle cx="630.0" cy="652.6" r="2.9" stroke="none"/>
<circle cx="625.1" cy="648.6" r="2.9" stroke="none"/>
<circle cx="621.9" cy="646.5" r="2.9" stroke="none"/>
<circle cx="616.3" cy="644.4" r="2.9" stroke="none"/>
<circle cx="612.2" cy="644.0" r="2.9" stroke="none"/>
<circle cx="606.5" cy="643.9" r="2.9" stroke="none"/>
<circle cx="601.0" cy="646.4" r="2.9" stroke="none"/>
<circle cx="597.3" cy="647.9" r="2.9" stroke="none"/>
<circle cx="596.3" cy="652.9" r="2.9" stroke="none"/>
<circle cx="596.4" cy="658.7" r="2.9" stroke="none"/>
<circle cx="594.2" cy="663.1" r="2.9" stroke="none"/>
<circle cx="594.2" cy="669.0" r="2.9" stroke="none"/>
<circle cx="594.5" cy="674.0" r="2.9" stroke="none"/>
<circle cx="593.7" cy="678.4" r="2.9" stroke="none"/>
<circle cx="595.4" cy="684.1" r="2.9" stroke="none"/>
<circle cx="596.4" cy="688.6" r="2.9" stroke="none"/>
<circle cx="597.5" cy="694.2" r="2.9" stroke="none"/>
<circle cx="599.8" cy="699.7" r="2.9" stroke="none"/>
<circle cx="622.9" cy="881.9" r="2.9" stroke="none"/>
<circle cx="624.5" cy="887.7" r="2.9" stroke="none"/>
<circle cx="625.7" cy="892.3" r="2.9" stroke="none"/>
<circle cx="627.6" cy="897.4" r="2.9" stroke="none"/>
<circle cx="628.0" cy="901.5" r="2.9" stroke="none"/>
<circle cx="630.8" cy="903.2" r="2.9" stroke="none"/>
<circle cx="632.3" cy="906.8" r="2.9" stroke="none"/>
<circle cx="632.3" cy="911.9" r="2.9" stroke="none"/>
<circle cx="630.4" cy="917.1" r="2.9" stroke="none"/>
<circle cx="627.0" cy="919.6" r="2.9" stroke="none"/>
<circle cx="625.8" cy="924.1" r="2.9" stroke="none"/>
<circle cx="629.5" cy="926.8" r="2.9" stroke="none"/>
<circle cx="632.9" cy="924.2" r="2.9" stroke="none"/>
<circle cx="638.4" cy="920.3" r="2.9" stroke="none"/>
<circle cx="640.0" cy="916.1" r="2.9" stroke="none"/>
<circle cx="641.1" cy="910.2" r="2.9" stroke="none"/>
<circle cx="640.9" cy="905.9" r="2.9" stroke="none"/>
<circle cx="636.3" cy="901.7" r="2.9" stroke="none"/>
<circle cx="634.4" cy="898.1" r="2.9" stroke="none"/>
<circle cx="631.5" cy="892.6" r="2.9" stroke="none"/>
<circle cx="629.2" cy="888.8" r="2.9" stroke="none"/>
<circle cx="626.5" cy="884.6" r="2.9" stroke="none"/>
<circle cx="626.3" cy="879.4" r="2.9" stroke="none"/>
<circle cx="623.2" cy="875.2" r="2.9" stroke="none"/>
<circle cx="619.7" cy="872.9" r="2.9" stroke="none"/>
<circle cx="616.2" cy="867.2" r="2.9" stroke="none"/>
<circle cx="614.8" cy="863.0" r="2.9" stroke="none"/>
<circle cx="613.1" cy="857.4" r="2.9" stroke="none"/>
<circle cx="612.2" cy="852.4" r="2.9" stroke="none"/>
<circle cx="612.0" cy="848.4" r="2.9" stroke="none"/>
<circle cx="611.6" cy="842.7" r="2.9" stroke="none"/>
<circle cx="609.6" cy="840.2" r="2.9" stroke="none"/>
<circle cx="605.8" cy="844.8" r="2.9" stroke="none"/>
<circle cx="608.5" cy="847.3" r="2.9" stroke="none"/>
<circle cx="611.6" cy="851.7" r="2.9" stroke="none"/>
<circle cx="611.9" cy="857.5" r="2.9" stroke="none"/>
<circle cx="614.0" cy="861.5" r="2.9" stroke="none"/>
<circle cx="615.2" cy="866.2" r="2.9" stroke="none"/>
<circle cx="617.2" cy="872.2" r="2.9" stroke="none"/>
<circle cx="619.2" cy="877.0" r="2.9" stroke="none"/>
<circle cx="622.1" cy="881.2" r="2.9" stroke="none"/>
<circle cx="580.2" cy="770.3" r="2.9" stroke="none"/>
<circle cx="579.3" cy="766.3" r="2.9" stroke="none"/>
<circle cx="574.5" cy="763.6" r="2.9" stroke="none"/>
<circle cx="570.0" cy="764.1" r="2.9" stroke="none"/>
<circle cx="564.7" cy="763.0" r="2.9" stroke="none"/>
<circle cx="559.3" cy="763.1" r="2.9" stroke="none"/>
<circle cx="553.5" cy="763.0" r="2.9" stroke="none"/>
<circle cx="549.9" cy="764.7" r="2.9" stroke="none"/>
<circle cx="545.5" cy="767.0" r="2.9" stroke="none"/>
<circle cx="542.0" cy="771.1" r="2.9" stroke="none"/>
<circle cx="542.6" cy="774.7" r="2.9" stroke="none"/>
<circle cx="546.3" cy="778.3" r="2.9" stroke="none"/>
<circle cx="550.9" cy="780.5" r="2.9" stroke="none"/>
<circle cx="555.7" cy="782.8" r="2.9" stroke="none"/>
<circle cx="561.0" cy="782.4" r="2.9" stroke="none"/>
<circle cx="566.0" cy="782.2" r="2.9" stroke="none"/>
<circle cx="571.8" cy="781.4" r="2.9" stroke="none"/>
<circle cx="575.3" cy="779.9" r="2.9" stroke="none"/>
<circle cx="579.1" cy="776.5" r="2.9" stroke="none"/>
<circle cx="581.4" cy="771.3" r="2.9" stroke="none"/>
<circle cx="537.8" cy="321.8" r="2.9" stroke="none"/>
<circle cx="543.0" cy="319.9" r="2.9" stroke="none"/>
<circle cx="547.0" cy="317.6" r="2.9" stroke="none"/>
<circle cx="550.9" cy="314.6" r="2.9" stroke="none"/>
<circle cx="552.9" cy="309.8" r="2.9" stroke="none"/>
<circle cx="548.0" cy="309.5" r="2.9" stroke="none"/>
<circle cx="544.6" cy="311.3" r="2.9" stroke="none"/>
<circle cx="541.7" cy="315.9" r="2.9" stroke="none"/>
<circle cx="538.5" cy="320.6" r="2.9" stroke="none"/>
<circle cx="517.8" cy="1020.1" r="2.9" stroke="none"/>
<circle cx="522.7" cy="1017.7" r="2.9" stroke="none"/>
<circle cx="527.0" cy="1015.3" r="2.9" stroke="none"/>
<circle cx="531.8" cy="1013.9" r="2.9" stroke="none"/>
<circle cx="533.9" cy="1009.7" r="2.9" stroke="none"/>
<circle cx="534.3" cy="1004.2" r="2.9" stroke="none"/>
<circle cx="535.7" cy="998.9" r="2.9" stroke="none"/>
<circle cx="534.7" cy="994.1" r="2.9" stroke="none"/>
<circle cx="532.0" cy="990.9" r="2.9" stroke="none"/>
<circle cx="527.5" cy="987.9" r="2.9" stroke="none"/>
<circle cx="524.4" cy="982.8" r="2.9" stroke="none"/>
<circle cx="524.1" cy="978.4" r="2.9" stroke="none"/>
<circle cx="521.3" cy="973.4" r="2.9" stroke="none"/>
<circle cx="519.7" cy="969.2" r="2.9" stroke="none"/>
<circle cx="516.8" cy="969.8" r="2.9" stroke="none"/>
<circle cx="517.9" cy="975.8" r="2.9" stroke="none"/>
<circle cx="516.7" cy="980.3" r="2.9" stroke="none"/>
<circle cx="518.2" cy="985.9" r="2.9" stroke="none"/>
<circle cx="519.9" cy="991.2" r="2.9" stroke="none"/>
<circle cx="521.2" cy="995.8" r="2.9" stroke="none"/>
<circle cx="522.1" cy="1001.3" r="2.9" stroke="none"/>
<circle cx="520.6" cy="1005.4" r="2.9" stroke="none"/>
<circle cx="517.3" cy="1009.8" r="2.9" stroke="none"/>
<circle cx="515.7" cy="1013.6" r="2.9" stroke="none"/>
<circle cx="517.0" cy="1017.8" r="2.9" stroke="none"/>
<circle cx="363.4" cy="866.1" r="2.9" stroke="none"/>
<circle cx="367.5" cy="869.3" r="2.9" stroke="none"/>
<circle cx="371.9" cy="871.3" r="2.9" stroke="none"/>
<circle cx="377.3" cy="872.6" r="2.9" stroke="none"/>
<circle cx="382.2" cy="871.8" r="2.9" stroke="none"/>
<circle cx="387.1" cy="871.9" r="2.9" stroke="none"/>
<circle cx="392.5" cy="870.4" r="2.9" stroke="none"/>
<circle cx="393.8" cy="866.8" r="2.9" stroke="none"/>
<circle cx="393.8" cy="861.2" r="2.9" stroke="none"/>
<circle cx="396.0" cy="857.6" r="2.9" stroke="none"/>
<circle cx="395.7" cy="851.9" r="2.9" stroke="none"/>
<circle cx="396.8" cy="847.2" r="2.9" stroke="none"/>
<circle cx="401.8" cy="846.5" r="2.9" stroke="none"/>
<circle cx="407.6" cy="844.6" r="2.9" stroke="none"/>
<circle cx="412.5" cy="847.7" r="2.9" stroke="none"/>
<circle cx="416.2" cy="851.9" r="2.9" stroke="none"/>
<circle cx="419.9" cy="853.7" r="2.9" stroke="none"/>
<circle cx="423.6" cy="856.8" r="2.9" stroke="none"/>
<circle cx="427.3" cy="858.3" r="2.9" stroke="none"/>
<circle cx="432.3" cy="862.1" r="2.9" stroke="none"/>
<circle cx="436.9" cy="865.9" r="2.9" stroke="none"/>
<circle cx="440.7" cy="868.6" r="2.9" stroke="none"/>
<circle cx="445.8" cy="868.3" r="2.9" stroke="none"/>
<circle cx="451.3" cy="868.6" r="2.9" stroke="none"/>
<circle cx="455.9" cy="869.7" r="2.9" stroke="none"/>
<circle cx="461.0" cy="871.3" r="2.9" stroke="none"/>
<circle cx="466.6" cy="871.7" r="2.9" stroke="none"/>
<circle cx="470.5" cy="873.2" r="2.9" stroke="none"/>
<circle cx="475.7" cy="875.8" r="2.9" stroke="none"/>
<circle cx="480.6" cy="878.6" r="2.9" stroke="none"/>
<circle cx="485.1" cy="881.5" r="2.9" stroke="none"/>
<circle cx="488.1" cy="885.1" r="2.9" stroke="none"/>
<circle cx="493.6" cy="886.9" r="2.9" stroke="none"/>
<circle cx="497.5" cy="890.0" r="2.9" stroke="none"/>
<circle cx="501.3" cy="886.7" r="2.9" stroke="none"/>
<circle cx="507.0" cy="884.7" r="2.9" stroke="none"/>
<circle cx="511.0" cy="881.6" r="2.9" stroke="none"/>
<circle cx="513.1" cy="878.3" r="2.9" stroke="none"/>
<circle cx="510.8" cy="875.1" r="2.9" stroke="none"/>
<circle cx="506.1" cy="872.1" r="2.9" stroke="none"/>
<circle cx="500.2" cy="869.7" r="2.9" stroke="none"/>
<circle cx="495.9" cy="868.4" r="2.9" stroke="none"/>
<circle cx="490.4" cy="866.2" r="2.9" stroke="none"/>
<circle cx="487.1" cy="863.6" r="2.9" stroke="none"/>
<circle cx="482.6" cy="860.9" r="2.9" stroke="none"/>
<circle cx="480.3" cy="855.0" r="2.9" stroke="none"/>
<circle cx="477.2" cy="851.8" r="2.9" stroke="none"/>
<circle cx="473.5" cy="848.1" r="2.9" stroke="none"/>
<circle cx="468.2" cy="845.5" r="2.9" stroke="none"/>
<circle cx="464.7" cy="844.0" r="2.9" stroke="none"/>
<circle cx="459.7" cy="841.3" r="2.9" stroke="none"/>
<circle cx="454.8" cy="839.4" r="2.9" stroke="none"/>
<circle cx="450.0" cy="836.9" r="2.9" stroke="none"/>
<circle cx="446.0" cy="834.8" r="2.9" stroke="none"/>
<circle cx="441.8" cy="830.9" r="2.9" stroke="none"/>
<circle cx="437.1" cy="827.1" r="2.9" stroke="none"/>
<circle cx="434.2" cy="823.6" r="2.9" stroke="none"/>
<circle cx="429.1" cy="820.6" r="2.9" stroke="none"/>
<circle cx="425.1" cy="819.3" r="2.9" stroke="none"/>
<circle cx="420.6" cy="816.9" r="2.9" stroke="none"/>
<circle cx="416.3" cy="812.0" r="2.9" stroke="none"/>
<circle cx="414.8" cy="808.0" r="2.9" stroke="none"/>
<circle cx="412.2" cy="803.5" r="2.9" stroke="none"/>
<circle cx="408.7" cy="798.8" r="2.9" stroke="none"/>
<circle cx="406.0" cy="795.3" r="2.9" stroke="none"/>
<circle cx="404.0" cy="790.1" r="2.9" stroke="none"/>
<circle cx="400.9" cy="785.8" r="2.9" stroke="none"/>
<circle cx="399.6" cy="781.7" r="2.9" stroke="none"/>
<circle cx="401.1" cy="776.7" r="2.9" stroke="none"/>
<circle cx="400.5" cy="771.2" r="2.9" stroke="none"/>
<circle cx="397.5" cy="765.8" r="2.9" stroke="none"/>
<circle cx="394.2" cy="764.5" r="2.9" stroke="none"/>
<circle cx="388.5" cy="762.3" r="2.9" stroke="none"/>
<circle cx="388.5" cy="756.4" r="2.9" stroke="none"/>
<circle cx="388.2" cy="752.2" r="2.9" stroke="none"/>
<circle cx="388.3" cy="747.1" r="2.9" stroke="none"/>
<circle cx="389.2" cy="741.1" r="2.9" stroke="none"/>
<circle cx="390.9" cy="735.9" r="2.9" stroke="none"/>
<circle cx="386.5" cy="733.3" r="2.9" stroke="none"/>
<circle cx="382.6" cy="730.1" r="2.9" stroke="none"/>
<circle cx="377.8" cy="726.4" r="2.9" stroke="none"/>
<circle cx="373.6" cy="723.7" r="2.9" stroke="none"/>
<circle cx="369.6" cy="722.4" r="2.9" stroke="none"/>
<circle cx="363.9" cy="720.6" r="2.9" stroke="none"/>
<circle cx="358.9" cy="719.7" r="2.9" stroke="none"/>
<circle cx="353.5" cy="718.8" r="2.9" stroke="none"/>
<circle cx="347.8" cy="719.6" r="2.9" stroke="none"/>
<circle cx="343.0" cy="718.2" r="2.9" stroke="none"/>
<circle cx="337.8" cy="719.7" r="2.9" stroke="none"/>
<circle cx="333.0" cy="721.1" r="2.9" stroke="none"/>
<circle cx="329.5" cy="724.4" r="2.9" stroke="none"/>
<circle cx="325.0" cy="728.6" r="2.9" stroke="none"/>
<circle cx="321.9" cy="732.0" r="2.9" stroke="none"/>
<circle cx="322.1" cy="736.9" r="2.9" stroke="none"/>
<circle cx="320.4" cy="743.1" r="2.9" stroke="none"/>
<circle cx="320.2" cy="747.1" r="2.9" stroke="none"/>
<circle cx="319.0" cy="753.2" r="2.9" stroke="none"/>
<circle cx="318.5" cy="758.8" r="2.9" stroke="none"/>
<circle cx="317.0" cy="763.8" r="2.9" stroke="none"/>
<circle cx="315.7" cy="767.5" r="2.9" stroke="none"/>
<circle cx="313.8" cy="772.2" r="2.9" stroke="none"/>
<circle cx="312.3" cy="777.3" r="2.9" stroke="none"/>
<circle cx="310.8" cy="782.7" r="2.9" stroke="none"/>
<circle cx="308.9" cy="787.2" r="2.9" stroke="none"/>
<circle cx="308.6" cy="792.3" r="2.9" stroke="none"/>
<circle cx="307.8" cy="797.1" r="2.9" stroke="none"/>
<circle cx="304.0" cy="801.8" r="2.9" stroke="none"/>
<circle cx="300.2" cy="806.0" r="2.9" stroke="none"/>
<circle cx="296.2" cy="809.0" r="2.9" stroke="none"/>
<circle cx="293.6" cy="812.7" r="2.9" stroke="none"/>
<circle cx="290.7" cy="816.8" r="2.9" stroke="none"/>
<circle cx="288.8" cy="822.9" r="2.9" stroke="none"/>
<circle cx="288.6" cy="827.7" r="2.9" stroke="none"/>
<circle cx="289.3" cy="832.6" r="2.9" stroke="none"/>
<circle cx="290.8" cy="837.6" r="2.9" stroke="none"/>
<circle cx="291.8" cy="842.0" r="2.9" stroke="none"/>
<circle cx="293.5" cy="847.1" r="2.9" stroke="none"/>
<circle cx="296.1" cy="852.2" r="2.9" stroke="none"/>
<circle cx="299.8" cy="855.4" r="2.9" stroke="none"/>
<circle cx="305.3" cy="858.7" r="2.9" stroke="none"/>
<circle cx="309.7" cy="861.5" r="2.9" stroke="none"/>
<circle cx="313.1" cy="862.8" r="2.9" stroke="none"/>
<circle cx="318.1" cy="863.9" r="2.9" stroke="none"/>
<circle cx="324.3" cy="863.8" r="2.9" stroke="none"/>
<circle cx="329.1" cy="864.7" r="2.9" stroke="none"/>
<circle cx="334.7" cy="864.5" r="2.9" stroke="none"/>
<circle cx="340.1" cy="865.1" r="2.9" stroke="none"/>
<circle cx="345.0" cy="865.2" r="2.9" stroke="none"/>
<circle cx="349.3" cy="866.7" r="2.9" stroke="none"/>
<circle cx="355.5" cy="866.3" r="2.9" stroke="none"/>
<circle cx="359.6" cy="865.3" r="2.9" stroke="none"/>
<circle cx="492.8" cy="345.2" r="2.9" stroke="none"/>
<circle cx="487.9" cy="346.3" r="2.9" stroke="none"/>
<circle cx="482.8" cy="348.1" r="2.9" stroke="none"/>
<circle cx="479.6" cy="350.8" r="2.9" stroke="none"/>
<circle cx="481.0" cy="356.3" r="2.9" stroke="none"/>
<circle cx="483.7" cy="360.1" r="2.9" stroke="none"/>
<circle cx="486.6" cy="364.7" r="2.9" stroke="none"/>
<circle cx="490.4" cy="365.1" r="2.9" stroke="none"/>
<circle cx="493.1" cy="361.8" r="2.9" stroke="none"/>
<circle cx="493.5" cy="355.6" r="2.9" stroke="none"/>
<circle cx="494.9" cy="351.4" r="2.9" stroke="none"/>
<circle cx="492.7" cy="345.7" r="2.9" stroke="none"/>
<circle cx="429.4" cy="443.7" r="2.9" stroke="none"/>
<circle cx="425.4" cy="440.8" r="2.9" stroke="none"/>
<circle cx="422.3" cy="436.2" r="2.9" stroke="none"/>
<circle cx="423.9" cy="432.0" r="2.9" stroke="none"/>
<circle cx="428.0" cy="429.7" r="2.9" stroke="none"/>
<circle cx="429.4" cy="424.5" r="2.9" stroke="none"/>
<circle cx="429.0" cy="420.2" r="2.9" stroke="none"/>
<circle cx="426.8" cy="415.9" r="2.9" stroke="none"/>
<circle cx="428.8" cy="411.8" r="2.9" stroke="none"/>
<circle cx="431.7" cy="407.0" r="2.9" stroke="none"/>
<circle cx="433.6" cy="403.0" r="2.9" stroke="none"/>
<circle cx="438.6" cy="400.1" r="2.9" stroke="none"/>
<circle cx="444.1" cy="397.1" r="2.9" stroke="none"/>
<circle cx="448.5" cy="394.7" r="2.9" stroke="none"/>
<circle cx="452.7" cy="393.1" r="2.9" stroke="none"/>
<circle cx="448.5" cy="394.5" r="2.9" stroke="none"/>
<circle cx="444.6" cy="395.8" r="2.9" stroke="none"/>
<circle cx="438.8" cy="395.6" r="2.9" stroke="none"/>
<circle cx="432.8" cy="395.5" r="2.9" stroke="none"/>
<circle cx="428.2" cy="394.5" r="2.9" stroke="none"/>
<circle cx="423.0" cy="393.4" r="2.9" stroke="none"/>
<circle cx="418.8" cy="392.2" r="2.9" stroke="none"/>
<circle cx="413.3" cy="389.6" r="2.9" stroke="none"/>
<circle cx="408.8" cy="388.3" r="2.9" stroke="none"/>
<circle cx="404.5" cy="386.4" r="2.9" stroke="none"/>
<circle cx="398.7" cy="385.3" r="2.9" stroke="none"/>
<circle cx="393.7" cy="383.4" r="2.9" stroke="none"/>
<circle cx="389.4" cy="385.9" r="2.9" stroke="none"/>
<circle cx="387.8" cy="390.6" r="2.9" stroke="none"/>
<circle cx="384.7" cy="395.0" r="2.9" stroke="none"/>
<circle cx="382.4" cy="399.0" r="2.9" stroke="none"/>
<circle cx="381.0" cy="404.3" r="2.9" stroke="none"/>
<circle cx="379.1" cy="408.6" r="2.9" stroke="none"/>
<circle cx="379.8" cy="413.6" r="2.9" stroke="none"/>
<circle cx="381.4" cy="418.4" r="2.9" stroke="none"/>
<circle cx="384.5" cy="423.4" r="2.9" stroke="none"/>
<circle cx="388.3" cy="426.3" r="2.9" stroke="none"/>
<circle cx="392.1" cy="430.2" r="2.9" stroke="none"/>
<circle cx="396.2" cy="433.0" r="2.9" stroke="none"/>
<circle cx="399.4" cy="436.4" r="2.9" stroke="none"/>
<circle cx="404.5" cy="441.3" r="2.9" stroke="none"/>
<circle cx="408.0" cy="442.5" r="2.9" stroke="none"/>
<circle cx="414.6" cy="443.0" r="2.9" stroke="none"/>
<circle cx="418.3" cy="443.6" r="2.9" stroke="none"/>
<circle cx="424.0" cy="443.1" r="2.9" stroke="none"/>
<circle cx="429.4" cy="442.5" r="2.9" stroke="none"/>
<circle cx="222.5" cy="579.8" r="2.9" stroke="none"/>
<circle cx="227.2" cy="579.3" r="2.9" stroke="none"/>
<circle cx="232.1" cy="576.5" r="2.9" stroke="none"/>
<circle cx="236.1" cy="574.1" r="2.9" stroke="none"/>
<circle cx="240.8" cy="576.3" r="2.9" stroke="none"/>
<circle cx="246.6" cy="573.6" r="2.9" stroke="none"/>
<circle cx="243.3" cy="570.6" r="2.9" stroke="none"/>
<circle cx="239.4" cy="569.6" r="2.9" stroke="none"/>
<circle cx="234.5" cy="566.1" r="2.9" stroke="none"/>
<circle cx="232.5" cy="561.9" r="2.9" stroke="none"/>
<circle cx="232.7" cy="556.4" r="2.9" stroke="none"/>
<circle cx="236.8" cy="552.7" r="2.9" stroke="none"/>
<circle cx="240.8" cy="551.0" r="2.9" stroke="none"/>
<circle cx="245.6" cy="549.4" r="2.9" stroke="none"/>
<circle cx="250.1" cy="545.9" r="2.9" stroke="none"/>
<circle cx="255.3" cy="544.6" r="2.9" stroke="none"/>
<circle cx="260.3" cy="542.4" r="2.9" stroke="none"/>
<circle cx="265.1" cy="540.4" r="2.9" stroke="none"/>
<circle cx="269.1" cy="537.4" r="2.9" stroke="none"/>
<circle cx="273.2" cy="534.7" r="2.9" stroke="none"/>
<circle cx="278.4" cy="531.8" r="2.9" stroke="none"/>
<circle cx="279.2" cy="529.7" r="2.9" stroke="none"/>
<circle cx="273.8" cy="529.9" r="2.9" stroke="none"/>
<circle cx="268.1" cy="527.4" r="2.9" stroke="none"/>
<circle cx="263.6" cy="526.6" r="2.9" stroke="none"/>
<circle cx="259.4" cy="523.9" r="2.9" stroke="none"/>
<circle cx="255.2" cy="522.5" r="2.9" stroke="none"/>
<circle cx="250.7" cy="519.1" r="2.9" stroke="none"/>
<circle cx="245.6" cy="516.6" r="2.9" stroke="none"/>
<circle cx="243.2" cy="512.4" r="2.9" stroke="none"/>
<circle cx="246.5" cy="508.7" r="2.9" stroke="none"/>
<circle cx="250.7" cy="505.6" r="2.9" stroke="none"/>
<circle cx="254.7" cy="500.9" r="2.9" stroke="none"/>
<circle cx="257.4" cy="497.7" r="2.9" stroke="none"/>
<circle cx="260.4" cy="493.0" r="2.9" stroke="none"/>
<circle cx="259.4" cy="488.6" r="2.9" stroke="none"/>
<circle cx="255.4" cy="488.7" r="2.9" stroke="none"/>
<circle cx="252.3" cy="492.6" r="2.9" stroke="none"/>
<circle cx="248.3" cy="496.2" r="2.9" stroke="none"/>
<circle cx="244.5" cy="499.0" r="2.9" stroke="none"/>
<circle cx="239.9" cy="501.0" r="2.9" stroke="none"/>
<circle cx="235.4" cy="504.7" r="2.9" stroke="none"/>
<circle cx="231.4" cy="508.6" r="2.9" stroke="none"/>
<circle cx="228.0" cy="508.1" r="2.9" stroke="none"/>
<circle cx="223.1" cy="505.1" r="2.9" stroke="none"/>
<circle cx="217.7" cy="504.4" r="2.9" stroke="none"/>
<circle cx="212.2" cy="501.7" r="2.9" stroke="none"/>
<circle cx="208.2" cy="501.0" r="2.9" stroke="none"/>
<circle cx="202.1" cy="501.0" r="2.9" stroke="none"/>
<circle cx="197.3" cy="500.5" r="2.9" stroke="none"/>
<circle cx="192.3" cy="501.5" r="2.9" stroke="none"/>
<circle cx="187.5" cy="502.5" r="2.9" stroke="none"/>
<circle cx="182.1" cy="504.2" r="2.9" stroke="none"/>
<circle cx="179.3" cy="508.0" r="2.9" stroke="none"/>
<circle cx="174.3" cy="512.1" r="2.9" stroke="none"/>
<circle cx="171.1" cy="514.8" r="2.9" stroke="none"/>
<circle cx="166.9" cy="517.1" r="2.9" stroke="none"/>
<circle cx="161.9" cy="519.5" r="2.9" stroke="none"/>
<circle cx="158.3" cy="523.3" r="2.9" stroke="none"/>
<circle cx="155.6" cy="527.7" r="2.9" stroke="none"/>
<circle cx="153.8" cy="531.6" r="2.9" stroke="none"/>
<circle cx="150.3" cy="535.6" r="2.9" stroke="none"/>
<circle cx="149.2" cy="541.7" r="2.9" stroke="none"/>
<circle cx="149.1" cy="546.7" r="2.9" stroke="none"/>
<circle cx="149.2" cy="550.9" r="2.9" stroke="none"/>
<circle cx="152.2" cy="556.1" r="2.9" stroke="none"/>
<circle cx="154.1" cy="560.2" r="2.9" stroke="none"/>
<circle cx="158.1" cy="562.9" r="2.9" stroke="none"/>
<circle cx="163.9" cy="565.4" r="2.9" stroke="none"/>
<circle cx="168.4" cy="566.5" r="2.9" stroke="none"/>
<circle cx="173.4" cy="567.8" r="2.9" stroke="none"/>
<circle cx="177.7" cy="569.3" r="2.9" stroke="none"/>
<circle cx="182.4" cy="570.6" r="2.9" stroke="none"/>
<circle cx="187.9" cy="570.4" r="2.9" stroke="none"/>
<circle cx="193.9" cy="570.9" r="2.9" stroke="none"/>
<circle cx="199.4" cy="571.5" r="2.9" stroke="none"/>
<circle cx="204.4" cy="572.7" r="2.9" stroke="none"/>
<circle cx="209.3" cy="574.9" r="2.9" stroke="none"/>
<circle cx="213.0" cy="576.5" r="2.9" stroke="none"/>
<circle cx="218.1" cy="578.5" r="2.9" stroke="none"/>
<polygon points="650.5,236.0 640.0,233.3 640.0,236.7 650.5,236.0"/>
<polyline points="496.0,373.3 501.7,386.7 508.3,400.0 514.0,411.7 518.3,420.0" fill="none" stroke-width="2.4"/>
<circle cx="496.2" cy="373.7" r="2.9" stroke="none"/>
<circle cx="497.1" cy="376.7" r="2.9" stroke="none"/>
<circle cx="499.2" cy="380.8" r="2.9" stroke="none"/>
<circle cx="500.7" cy="383.4" r="2.9" stroke="none"/>
<circle cx="502.1" cy="386.9" r="2.9" stroke="none"/>
<circle cx="503.7" cy="391.0" r="2.9" stroke="none"/>
<circle cx="505.0" cy="394.5" r="2.9" stroke="none"/>
<circle cx="507.3" cy="397.3" r="2.9" stroke="none"/>
<circle cx="508.5" cy="400.9" r="2.9" stroke="none"/>
<circle cx="510.8" cy="404.4" r="2.9" stroke="none"/>
<circle cx="511.7" cy="407.3" r="2.9" stroke="none"/>
<circle cx="513.4" cy="411.5" r="2.9" stroke="none"/>
<circle cx="515.2" cy="414.6" r="2.9" stroke="none"/>
<circle cx="517.0" cy="418.1" r="2.9" stroke="none"/>
<circle cx="518.2" cy="419.6" r="2.9" stroke="none"/>
<polyline points="429.7,417.7 441.7,408.3 451.7,408.3 458.3,412.3 465.0,419.0 468.3,425.0 471.7,431.7 476.0,437.0 483.0,443.0 492.0,448.0" fill="none" stroke-width="4.4"/>
<circle cx="430.5" cy="417.8" r="2.9" stroke="none"/>
<circle cx="433.1" cy="416.0" r="2.9" stroke="none"/>
<circle cx="436.7" cy="411.9" r="2.9" stroke="none"/>
<circle cx="438.3" cy="409.9" r="2.9" stroke="none"/>
<circle cx="441.7" cy="409.1" r="2.9" stroke="none"/>
<circle cx="446.1" cy="407.3" r="2.9" stroke="none"/>
<circle cx="448.6" cy="409.0" r="2.9" stroke="none"/>
<circle cx="453.3" cy="408.8" r="2.9" stroke="none"/>
<circle cx="456.1" cy="410.2" r="2.9" stroke="none"/>
<circle cx="459.9" cy="412.9" r="2.9" stroke="none"/>
<circle cx="462.7" cy="416.1" r="2.9" stroke="none"/>
<circle cx="463.6" cy="418.2" r="2.9" stroke="none"/>
<circle cx="465.9" cy="422.6" r="2.9" stroke="none"/>
<circle cx="468.5" cy="424.1" r="2.9" stroke="none"/>
<circle cx="469.3" cy="428.2" r="2.9" stroke="none"/>
<circle cx="471.8" cy="432.0" r="2.9" stroke="none"/>
<circle cx="474.0" cy="434.5" r="2.9" stroke="none"/>
<circle cx="475.7" cy="437.8" r="2.9" stroke="none"/>
<circle cx="479.3" cy="439.1" r="2.9" stroke="none"/>
<circle cx="482.4" cy="443.7" r="2.9" stroke="none"/>
<circle cx="484.8" cy="443.8" r="2.9" stroke="none"/>
<circle cx="489.5" cy="445.9" r="2.9" stroke="none"/>
<circle cx="491.5" cy="448.0" r="2.9" stroke="none"/>
<polyline points="550.0,511.7 563.3,526.7 583.3,545.0 600.0,553.3" fill="none" stroke-width="2.4"/>
<circle cx="549.8" cy="511.7" r="2.9" stroke="none"/>
<circle cx="552.6" cy="515.0" r="2.9" stroke="none"/>
<circle cx="555.5" cy="516.9" r="2.9" stroke="none"/>
<circle cx="557.6" cy="520.5" r="2.9" stroke="none"/>
<circle cx="560.5" cy="523.3" r="2.9" stroke="none"/>
<circle cx="562.8" cy="526.0" r="2.9" stroke="none"/>
<circle cx="565.2" cy="528.3" r="2.9" stroke="none"/>
<circle cx="568.4" cy="531.5" r="2.9" stroke="none"/>
<circle cx="571.4" cy="533.8" r="2.9" stroke="none"/>
<circle cx="573.6" cy="536.5" r="2.9" stroke="none"/>
<circle cx="576.8" cy="538.8" r="2.9" stroke="none"/>
<circle cx="579.5" cy="541.2" r="2.9" stroke="none"/>
<circle cx="582.2" cy="543.8" r="2.9" stroke="none"/>
<circle cx="584.9" cy="545.8" r="2.9" stroke="none"/>
<circle cx="588.5" cy="548.2" r="2.9" stroke="none"/>
<circle cx="592.1" cy="549.2" r="2.9" stroke="none"/>
<circle cx="595.2" cy="550.8" r="2.9" stroke="none"/>
<circle cx="598.7" cy="552.4" r="2.9" stroke="none"/>
<circle cx="599.5" cy="553.7" r="2.9" stroke="none"/>
<polyline points="507.0,914.5 510.0,923.5 510.9,933.4" fill="none" stroke-width="3.4"/>
<circle cx="506.9" cy="914.4" r="2.9" stroke="none"/>
<circle cx="508.3" cy="917.9" r="2.9" stroke="none"/>
<circle cx="509.0" cy="921.2" r="2.9" stroke="none"/>
<circle cx="509.9" cy="925.2" r="2.9" stroke="none"/>
<circle cx="510.8" cy="929.3" r="2.9" stroke="none"/>
<circle cx="511.4" cy="932.8" r="2.9" stroke="none"/>
<circle cx="511.4" cy="933.5" r="2.9" stroke="none"/>
<polyline points="656.0,979.0 660.0,985.0" fill="none" stroke-width="4.4"/>
<circle cx="655.1" cy="978.3" r="2.9" stroke="none"/>
<circle cx="658.3" cy="983.2" r="2.9" stroke="none"/>
<circle cx="659.7" cy="985.6" r="2.9" stroke="none"/>
<polyline points="435.0,1046.5 444.0,1040.5" fill="none" stroke-width="3.4"/>
<circle cx="434.9" cy="1046.9" r="2.9" stroke="none"/>
<circle cx="437.6" cy="1044.4" r="2.9" stroke="none"/>
<circle cx="441.8" cy="1042.0" r="2.9" stroke="none"/>
<circle cx="443.7" cy="1039.9" r="2.9" stroke="none"/>
<polyline points="719.5,718.4 730.0,720.5 740.5,714.5" fill="none" stroke-width="3.4"/>
<circle cx="719.1" cy="718.1" r="2.9" stroke="none"/>
<circle cx="723.5" cy="718.8" r="2.9" stroke="none"/>
<circle cx="726.8" cy="719.5" r="2.9" stroke="none"/>
<circle cx="730.7" cy="720.6" r="2.9" stroke="none"/>
<circle cx="734.1" cy="717.9" r="2.9" stroke="none"/>
<circle cx="737.5" cy="716.9" r="2.9" stroke="none"/>
<circle cx="740.6" cy="714.0" r="2.9" stroke="none"/>
<circle cx="740.9" cy="715.0" r="2.9" stroke="none"/>
<polyline points="923.5,401.8 931.7,394.8 940.5,389.0" fill="none" stroke-width="3.4"/>
<circle cx="923.3" cy="401.4" r="2.9" stroke="none"/>
<circle cx="926.0" cy="399.4" r="2.9" stroke="none"/>
<circle cx="929.7" cy="397.1" r="2.9" stroke="none"/>
<circle cx="932.7" cy="394.1" r="2.9" stroke="none"/>
<circle cx="935.2" cy="392.7" r="2.9" stroke="none"/>
<circle cx="938.7" cy="390.2" r="2.9" stroke="none"/>
<circle cx="940.7" cy="388.8" r="2.9" stroke="none"/>
<polyline points="643.8,916.2 652.5,912.5 660.0,915.6 670.0,921.2" fill="none" stroke-width="2.4"/>
<circle cx="643.3" cy="916.2" r="2.9" stroke="none"/>
<circle cx="646.8" cy="914.9" r="2.9" stroke="none"/>
<circle cx="650.6" cy="913.3" r="2.9" stroke="none"/>
<circle cx="654.3" cy="913.0" r="2.9" stroke="none"/>
<circle cx="657.7" cy="914.2" r="2.9" stroke="none"/>
<circle cx="661.6" cy="916.4" r="2.9" stroke="none"/>
<circle cx="665.0" cy="917.7" r="2.9" stroke="none"/>
<circle cx="667.9" cy="920.2" r="2.9" stroke="none"/>
<circle cx="669.8" cy="920.8" r="2.9" stroke="none"/>
<polyline points="681.9,925.0 690.0,928.8 698.8,932.5 707.5,935.0" fill="none" stroke-width="2.9"/>
<circle cx="681.5" cy="924.6" r="2.9" stroke="none"/>
<circle cx="685.6" cy="926.2" r="2.9" stroke="none"/>
<circle cx="689.1" cy="928.1" r="2.9" stroke="none"/>
<circle cx="692.3" cy="929.8" r="2.9" stroke="none"/>
<circle cx="695.8" cy="931.4" r="2.9" stroke="none"/>
<circle cx="699.4" cy="932.5" r="2.9" stroke="none"/>
<circle cx="703.2" cy="933.4" r="2.9" stroke="none"/>
<circle cx="706.8" cy="935.0" r="2.9" stroke="none"/>
<circle cx="707.8" cy="934.8" r="2.9" stroke="none"/>
<polyline points="598.8,713.8 595.0,722.5 587.5,736.2 580.0,748.8 577.5,756.2 577.5,762.5" fill="none" stroke-width="4.4"/>
<circle cx="599.3" cy="714.8" r="2.9" stroke="none"/>
<circle cx="597.2" cy="716.8" r="2.9" stroke="none"/>
<circle cx="595.8" cy="721.7" r="2.9" stroke="none"/>
<circle cx="593.3" cy="723.1" r="2.9" stroke="none"/>
<circle cx="592.2" cy="727.8" r="2.9" stroke="none"/>
<circle cx="591.1" cy="730.5" r="2.9" stroke="none"/>
<circle cx="589.7" cy="733.6" r="2.9" stroke="none"/>
<circle cx="587.3" cy="736.6" r="2.9" stroke="none"/>
<circle cx="583.8" cy="739.9" r="2.9" stroke="none"/>
<circle cx="581.9" cy="744.0" r="2.9" stroke="none"/>
<circle cx="581.0" cy="746.5" r="2.9" stroke="none"/>
<circle cx="580.3" cy="750.4" r="2.9" stroke="none"/>
<circle cx="577.4" cy="753.6" r="2.9" stroke="none"/>
<circle cx="578.0" cy="758.9" r="2.9" stroke="none"/>
<circle cx="576.8" cy="760.7" r="2.9" stroke="none"/>
<circle cx="578.1" cy="761.9" r="2.9" stroke="none"/>
<polyline points="595.0,776.2 605.0,777.5 612.5,778.1" fill="none" stroke-width="2.4"/>
<circle cx="595.5" cy="776.2" r="2.9" stroke="none"/>
<circle cx="598.9" cy="776.6" r="2.9" stroke="none"/>
<circle cx="602.8" cy="777.2" r="2.9" stroke="none"/>
<circle cx="606.1" cy="778.0" r="2.9" stroke="none"/>
<circle cx="609.7" cy="778.2" r="2.9" stroke="none"/>
<circle cx="612.1" cy="778.3" r="2.9" stroke="none"/>
<polyline points="610.6,780.0 610.2,789.4" fill="none" stroke-width="3.4"/>
<circle cx="610.5" cy="780.4" r="2.9" stroke="none"/>
<circle cx="609.9" cy="783.9" r="2.9" stroke="none"/>
<circle cx="610.2" cy="788.1" r="2.9" stroke="none"/>
<circle cx="610.8" cy="789.5" r="2.9" stroke="none"/>
<polyline points="553.1,789.4 552.5,796.2" fill="none" stroke-width="3.4"/>
<circle cx="552.8" cy="789.1" r="2.9" stroke="none"/>
<circle cx="552.5" cy="793.1" r="2.9" stroke="none"/>
<circle cx="552.2" cy="795.9" r="2.9" stroke="none"/>
<polyline points="722.8,567.0 723.7,557.5 728.5,549.8 736.2,544.1" fill="none" stroke-width="3.4"/>
<circle cx="723.1" cy="567.2" r="2.9" stroke="none"/>
<circle cx="722.9" cy="563.8" r="2.9" stroke="none"/>
<circle cx="723.2" cy="559.5" r="2.9" stroke="none"/>
<circle cx="724.3" cy="556.4" r="2.9" stroke="none"/>
<circle cx="727.1" cy="552.4" r="2.9" stroke="none"/>
<circle cx="729.1" cy="550.0" r="2.9" stroke="none"/>
<circle cx="731.6" cy="547.1" r="2.9" stroke="none"/>
<circle cx="734.9" cy="545.5" r="2.9" stroke="none"/>
<circle cx="735.8" cy="544.3" r="2.9" stroke="none"/>
<polyline points="913.0,575.0 912.5,590.0" fill="none" stroke-width="3.4"/>
<circle cx="913.1" cy="574.9" r="2.9" stroke="none"/>
<circle cx="913.0" cy="579.3" r="2.9" stroke="none"/>
<circle cx="912.4" cy="583.1" r="2.9" stroke="none"/>
<circle cx="912.5" cy="586.7" r="2.9" stroke="none"/>
<circle cx="912.9" cy="589.6" r="2.9" stroke="none"/>
<circle cx="530.0" cy="248.3" r="2.9" stroke="none"/>
<circle cx="543.3" cy="263.3" r="2.9" stroke="none"/>
<circle cx="544.2" cy="267.5" r="2.9" stroke="none"/>
<circle cx="545.8" cy="301.7" r="2.9" stroke="none"/>
<circle cx="585.8" cy="248.3" r="2.9" stroke="none"/>
<circle cx="600.0" cy="246.7" r="2.9" stroke="none"/>
<circle cx="690.8" cy="195.8" r="2.9" stroke="none"/>
<circle cx="698.3" cy="200.8" r="2.9" stroke="none"/>
<circle cx="705.8" cy="205.8" r="2.9" stroke="none"/>
<circle cx="710.0" cy="210.0" r="2.9" stroke="none"/>
<circle cx="709.2" cy="215.8" r="2.9" stroke="none"/>
<circle cx="691.7" cy="219.7" r="2.9" stroke="none"/>
<circle cx="682.5" cy="220.8" r="2.9" stroke="none"/>
<circle cx="700.0" cy="267.5" r="2.9" stroke="none"/>
<circle cx="703.3" cy="260.0" r="2.9" stroke="none"/>
<circle cx="710.0" cy="264.2" r="2.9" stroke="none"/>
<circle cx="715.0" cy="260.0" r="2.9" stroke="none"/>
<circle cx="719.2" cy="252.5" r="2.9" stroke="none"/>
<circle cx="708.3" cy="249.2" r="2.9" stroke="none"/>
<circle cx="701.7" cy="253.3" r="2.9" stroke="none"/>
<circle cx="759.2" cy="274.2" r="2.9" stroke="none"/>
<circle cx="756.3" cy="281.3" r="2.9" stroke="none"/>
<circle cx="812.0" cy="316.3" r="2.9" stroke="none"/>
<circle cx="821.7" cy="311.7" r="2.9" stroke="none"/>
<circle cx="816.7" cy="310.0" r="2.9" stroke="none"/>
<circle cx="807.5" cy="336.7" r="2.9" stroke="none"/>
<circle cx="495.6" cy="907.0" r="2.9" stroke="none"/>
<circle cx="503.4" cy="904.0" r="2.9" stroke="none"/>
<circle cx="507.9" cy="909.4" r="2.9" stroke="none"/>
<circle cx="525.0" cy="909.4" r="2.9" stroke="none"/>
<circle cx="515.1" cy="952.0" r="2.9" stroke="none"/>
<circle cx="479.4" cy="1029.1" r="2.9" stroke="none"/>
<circle cx="710.5" cy="722.9" r="2.9" stroke="none"/>
<circle cx="750.1" cy="716.0" r="2.9" stroke="none"/>
<circle cx="774.1" cy="632.0" r="2.9" stroke="none"/>
<circle cx="745.0" cy="784.4" r="2.9" stroke="none"/>
<circle cx="524.5" cy="909.5" r="2.9" stroke="none"/>
<circle cx="613.0" cy="910.4" r="2.9" stroke="none"/>
<circle cx="734.5" cy="813.5" r="2.9" stroke="none"/>
<circle cx="733.0" cy="819.5" r="2.9" stroke="none"/>
<circle cx="920.5" cy="395.5" r="2.9" stroke="none"/>
<circle cx="888.5" cy="426.3" r="2.9" stroke="none"/>
<circle cx="891.5" cy="427.7" r="2.9" stroke="none"/>
<circle cx="893.6" cy="433.3" r="2.9" stroke="none"/>
<circle cx="897.8" cy="438.5" r="2.9" stroke="none"/>
<circle cx="900.6" cy="430.3" r="2.9" stroke="none"/>
<circle cx="901.3" cy="597.1" r="2.9" stroke="none"/>
<circle cx="904.2" cy="623.0" r="2.9" stroke="none"/>
<circle cx="929.2" cy="640.8" r="2.9" stroke="none"/>
<circle cx="925.8" cy="654.2" r="2.9" stroke="none"/>
<circle cx="947.5" cy="651.7" r="2.9" stroke="none"/>
<circle cx="937.5" cy="667.5" r="2.9" stroke="none"/>
<circle cx="928.3" cy="671.7" r="2.9" stroke="none"/>
<circle cx="912.5" cy="679.2" r="2.9" stroke="none"/>
<circle cx="926.7" cy="684.2" r="2.9" stroke="none"/>
<circle cx="901.7" cy="690.0" r="2.9" stroke="none"/>
<circle cx="910.0" cy="690.0" r="2.9" stroke="none"/>
<circle cx="287.0" cy="392.0" r="2.9" stroke="none"/>
<circle cx="720.7" cy="495.5" r="2.9" stroke="none"/>
<circle cx="724.2" cy="501.6" r="2.9" stroke="none"/>
<circle cx="733.5" cy="519.8" r="2.9" stroke="none"/>
<circle cx="735.9" cy="524.1" r="2.9" stroke="none"/>
<circle cx="725.5" cy="576.8" r="2.9" stroke="none"/>
<circle cx="742.9" cy="582.2" r="2.9" stroke="none"/>
<circle cx="289.5" cy="394.5" r="2.9" stroke="none"/>
<circle cx="531.7" cy="433.8" r="2.9" stroke="none"/>
<circle cx="539.6" cy="433.8" r="2.9" stroke="none"/>
<circle cx="535.8" cy="439.0" r="2.9" stroke="none"/>
<circle cx="546.7" cy="440.0" r="2.9" stroke="none"/>
<circle cx="549.0" cy="439.0" r="2.9" stroke="none"/>
<circle cx="561.0" cy="443.0" r="2.9" stroke="none"/>
<circle cx="548.0" cy="449.0" r="2.9" stroke="none"/>
<circle cx="550.0" cy="453.0" r="2.9" stroke="none"/>
<circle cx="556.7" cy="450.0" r="2.9" stroke="none"/>
<circle cx="561.0" cy="454.0" r="2.9" stroke="none"/>
<circle cx="541.0" cy="456.7" r="2.9" stroke="none"/>
<circle cx="558.0" cy="460.0" r="2.9" stroke="none"/>
<circle cx="561.7" cy="461.0" r="2.9" stroke="none"/>
<circle cx="504.2" cy="480.0" r="2.9" stroke="none"/>
<circle cx="514.2" cy="483.3" r="2.9" stroke="none"/>
<circle cx="518.3" cy="484.2" r="2.9" stroke="none"/>
<circle cx="516.7" cy="494.2" r="2.9" stroke="none"/>
<circle cx="518.3" cy="475.0" r="2.9" stroke="none"/>
<circle cx="403.0" cy="860.0" r="2.9" stroke="none"/>
<circle cx="408.2" cy="860.8" r="2.9" stroke="none"/>
<circle cx="415.0" cy="854.0" r="2.9" stroke="none"/>
<circle cx="419.5" cy="851.0" r="2.9" stroke="none"/>
<circle cx="423.2" cy="857.8" r="2.9" stroke="none"/>
<circle cx="426.2" cy="866.0" r="2.9" stroke="none"/>
<circle cx="431.5" cy="869.0" r="2.9" stroke="none"/>
<circle cx="719.4" cy="528.7" r="2.9" stroke="none"/>
<circle cx="723.7" cy="535.4" r="2.9" stroke="none"/>
<circle cx="727.6" cy="536.4" r="2.9" stroke="none"/>
<circle cx="732.4" cy="540.2" r="2.9" stroke="none"/>
<circle cx="721.3" cy="545.5" r="2.9" stroke="none"/>
<circle cx="726.6" cy="545.0" r="2.9" stroke="none"/>
<circle cx="722.8" cy="567.5" r="2.9" stroke="none"/>
<circle cx="729.0" cy="571.4" r="2.9" stroke="none"/>
<circle cx="743.4" cy="569.0" r="2.9" stroke="none"/>
<circle cx="754.4" cy="541.2" r="2.9" stroke="none"/>
</g>
<g stroke="none">
<circle cx="216.2" cy="516.2" r="3.0" fill="#a07fe9"/>
<circle cx="177.5" cy="522.8" r="3.0" fill="#a07fe9"/>
<circle cx="150.5" cy="545.3" r="3.0" fill="#a07fe9"/>
<circle cx="164.0" cy="557.8" r="3.0" fill="#a07fe9"/>
<circle cx="226.2" cy="571.8" r="3.0" fill="#a07fe9"/>
<circle cx="420.3" cy="399.0" r="3.0" fill="#6a45f5"/>
<circle cx="581.7" cy="429.7" r="3.0" fill="#a07fe9"/>
<circle cx="507.0" cy="539.3" r="3.0" fill="#a07fe9"/>
<circle cx="515.3" cy="549.3" r="3.0" fill="#a07fe9"/>
<circle cx="461.3" cy="589.0" r="3.0" fill="#a07fe9"/>
<circle cx="719.1" cy="120.6" r="3.0" fill="#6a45f5"/>
<circle cx="715.3" cy="137.4" r="3.0" fill="#6a45f5"/>
<circle cx="669.4" cy="154.5" r="3.0" fill="#a07fe9"/>
<circle cx="680.2" cy="164.3" r="3.0" fill="#a07fe9"/>
<circle cx="687.1" cy="164.9" r="3.0" fill="#a07fe9"/>
<circle cx="696.6" cy="157.0" r="3.0" fill="#a07fe9"/>
<circle cx="710.3" cy="151.6" r="3.0" fill="#a07fe9"/>
<circle cx="702.7" cy="168.1" r="3.0" fill="#a07fe9"/>
<circle cx="715.6" cy="176.3" r="3.0" fill="#a07fe9"/>
<circle cx="721.7" cy="175.4" r="3.0" fill="#a07fe9"/>
<circle cx="728.6" cy="181.4" r="3.0" fill="#a07fe9"/>
<circle cx="752.4" cy="224.4" r="3.0" fill="#a07fe9"/>
<circle cx="794.8" cy="216.8" r="3.0" fill="#a07fe9"/>
<circle cx="817.0" cy="224.4" r="3.0" fill="#a07fe9"/>
<circle cx="839.8" cy="282.7" r="3.0" fill="#a07fe9"/>
<circle cx="818.2" cy="290.0" r="3.0" fill="#a07fe9"/>
<circle cx="335.1" cy="724.6" r="3.0" fill="#a07fe9"/>
<circle cx="351.0" cy="733.0" r="3.0" fill="#a07fe9"/>
<circle cx="366.0" cy="790.0" r="3.0" fill="#a07fe9"/>
<circle cx="605.5" cy="666.8" r="3.0" fill="#a07fe9"/>
<circle cx="613.0" cy="667.1" r="3.0" fill="#6a45f5"/>
<circle cx="629.5" cy="662.9" r="3.0" fill="#a07fe9"/>
<circle cx="618.1" cy="685.7" r="3.0" fill="#a07fe9"/>
<circle cx="1016.0" cy="640.0" r="3.0" fill="#a07fe9"/>
<circle cx="969.2" cy="651.2" r="3.0" fill="#a07fe9"/>
<circle cx="976.4" cy="653.6" r="3.0" fill="#a07fe9"/>
<circle cx="1051.2" cy="668.4" r="3.0" fill="#a07fe9"/>
<circle cx="966.0" cy="688.0" r="3.0" fill="#a07fe9"/>
<circle cx="984.8" cy="688.0" r="3.0" fill="#a07fe9"/>
<circle cx="993.6" cy="718.0" r="3.0" fill="#0000ff"/>
<circle cx="988.8" cy="738.4" r="3.0" fill="#6a45f5"/>
<circle cx="911.2" cy="718.4" r="3.0" fill="#a07fe9"/>
<circle cx="935.2" cy="752.0" r="3.0" fill="#a07fe9"/>
</g>
<text transform="translate(606,37.1) scale(0.963,1)" font-size="36" text-anchor="middle" font-weight="bold">Gm47257</text>
<text transform="translate(87.6,287.90000000000003) scale(0.96,1)" font-size="31.5" text-anchor="end">10</text>
<text transform="translate(87.6,582.0) scale(0.96,1)" font-size="31.5" text-anchor="end">0</text>
<text transform="translate(87.6,876.0) scale(0.96,1)" font-size="31.5" text-anchor="end">-10</text>
<text transform="translate(141.81,1147.9) scale(0.96,1)" font-size="31.5" text-anchor="middle">-15</text>
<text transform="translate(307.53999999999996,1147.9) scale(0.96,1)" font-size="31.5" text-anchor="middle">-10</text>
<text transform="translate(473.27,1147.9) scale(0.96,1)" font-size="31.5" text-anchor="middle">-5</text>
<text transform="translate(639.0,1147.9) scale(0.96,1)" font-size="31.5" text-anchor="middle">0</text>
<text transform="translate(804.73,1147.9) scale(0.96,1)" font-size="31.5" text-anchor="middle">5</text>
<text transform="translate(970.46,1147.9) scale(0.96,1)" font-size="31.5" text-anchor="middle">10</text>
<text transform="translate(604,1181.3) scale(0.985,1)" font-size="30.5" text-anchor="middle">umapNC_1</text>
<text transform="translate(34.5,586) rotate(-90) scale(0.985,1)" font-size="30.5" text-anchor="middle">umapNC_2</text>
<text transform="translate(1154.5,579) scale(0.98,1)" font-size="26" text-anchor="start">1.0</text>
<text transform="translate(1154.5,606.3) scale(0.98,1)" font-size="26" text-anchor="start">0.5</text>
<text transform="translate(1154.5,633.6) scale(0.98,1)" font-size="26" text-anchor="start">0.0</text>
<g stroke="#000" stroke-width="2.8" fill="none" stroke-linecap="butt">
<path d="M95.5 51.2 V1121 M94 1119.5 H1117.8"/>
<path d="M90 277.3 H95 M90 571.4 H95 M90 865.4 H95"/>
<path d="M141.8 1120 V1124.7 M307.5 1120 V1124.7 M473.2 1120 V1124.7 M639 1120 V1124.7 M804.7 1120 V1124.7 M970.4 1120 V1124.7"/>
</g>
<rect x="1130" y="547.7" width="15.7" height="76.3" fill="url(#lg)"/>
<g stroke="#fff" stroke-width="1" opacity="0.8">
<path d="M1130 569 H1133 M1142.7 569 H1145.7 M1130 596.3 H1133 M1142.7 596.3 H1145.7"/>
</g>
</svg>
</body></html>
